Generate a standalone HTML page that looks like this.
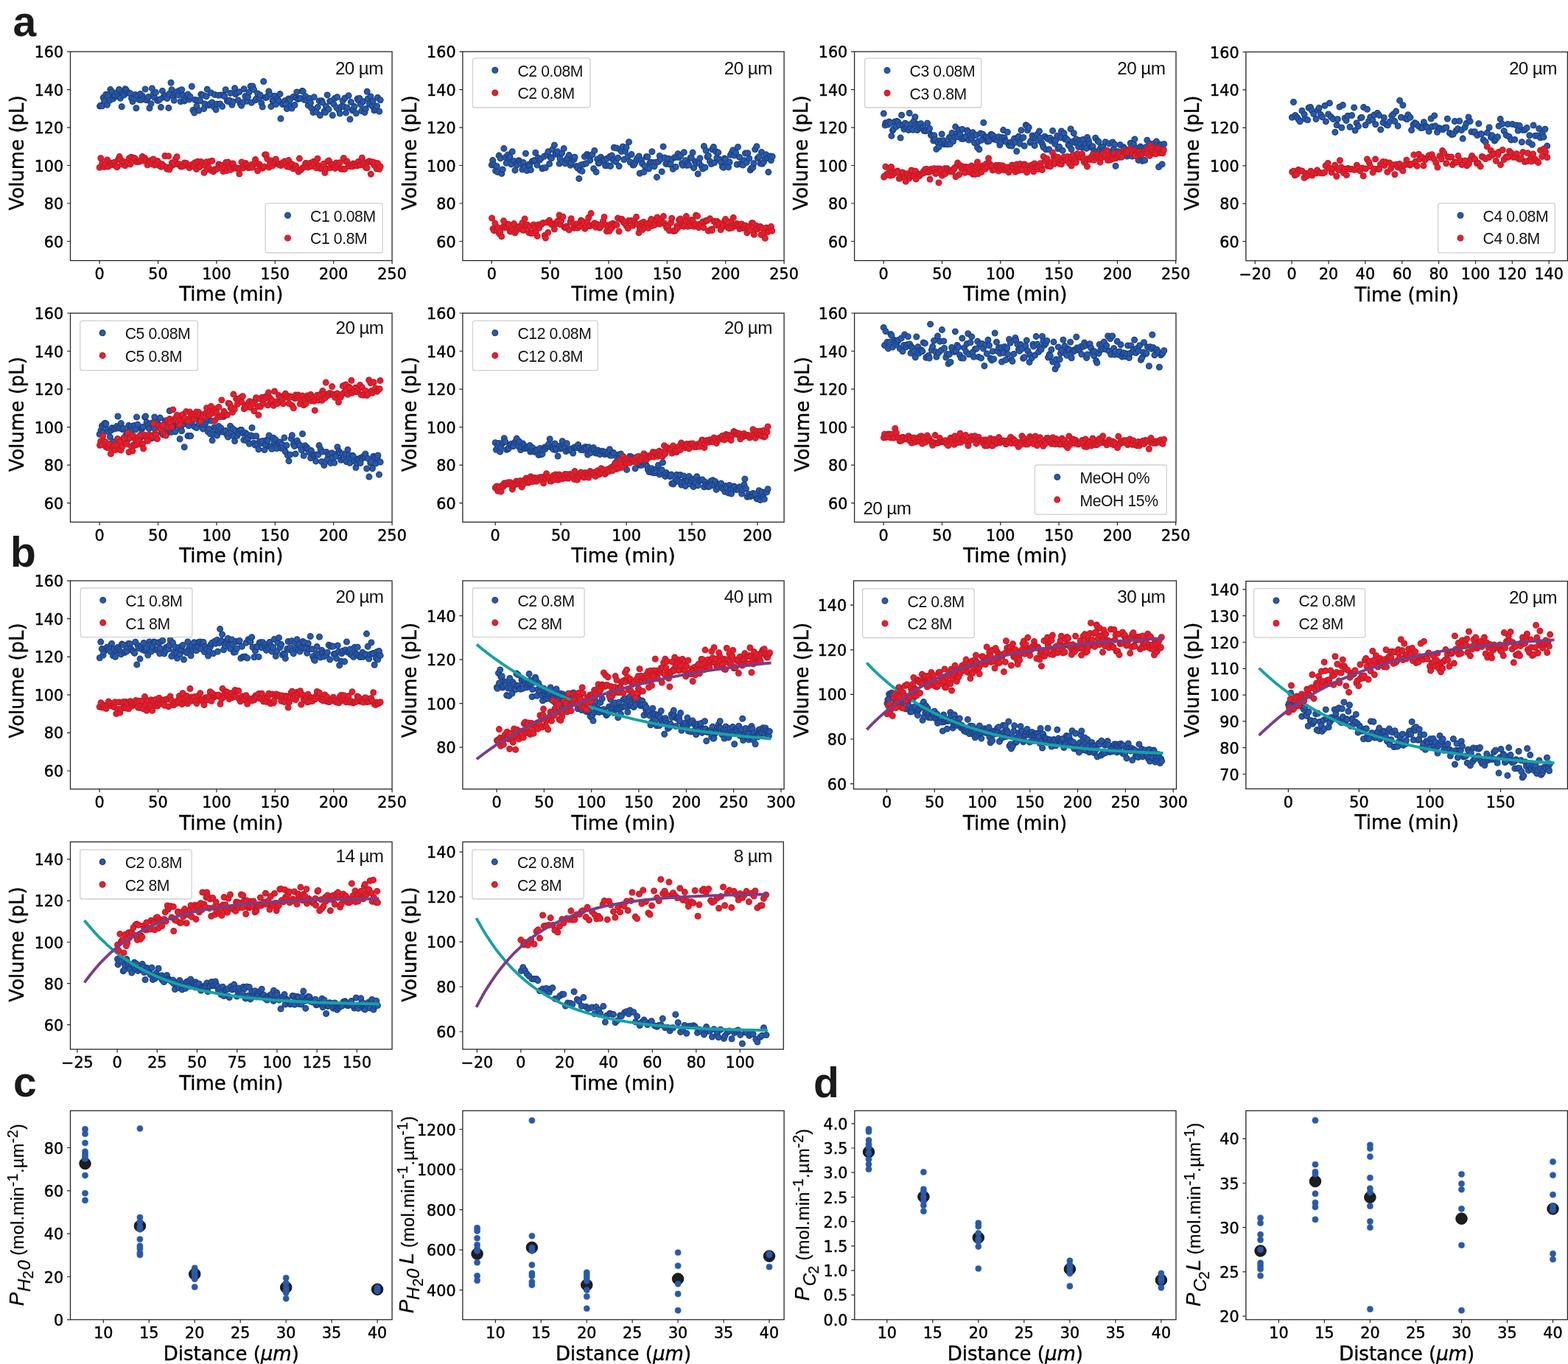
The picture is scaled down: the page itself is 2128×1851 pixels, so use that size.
<!DOCTYPE html><html><head><meta charset="utf-8"><style>html,body{margin:0;padding:0;background:#fff}svg{display:block}</style></head><body>
<svg xmlns="http://www.w3.org/2000/svg" width="2128" height="1851" viewBox="0 0 2128 1851">
<defs><marker id="m0" markerUnits="userSpaceOnUse" markerWidth="24" markerHeight="24" refX="12" refY="12" overflow="visible"><circle cx="12" cy="12" r="3.85" fill="#2859ab" stroke="#1d417f" stroke-width="1.3"/></marker><marker id="m1" markerUnits="userSpaceOnUse" markerWidth="24" markerHeight="24" refX="12" refY="12" overflow="visible"><circle cx="12" cy="12" r="3.85" fill="#ea1d2b" stroke="#bf1c29" stroke-width="1.3"/></marker><marker id="m2" markerUnits="userSpaceOnUse" markerWidth="24" markerHeight="24" refX="12" refY="12" overflow="visible"><circle cx="12" cy="12" r="7.75" fill="#1e1e1e" stroke="#111" stroke-width="1.0"/></marker><marker id="m3" markerUnits="userSpaceOnUse" markerWidth="24" markerHeight="24" refX="12" refY="12" overflow="visible"><circle cx="12" cy="12" r="4.05" fill="#2859ab" stroke="#2859ab" stroke-width="0.5"/></marker></defs>
<rect width="2128" height="1851" fill="#fff"/>
<clipPath id="ca1"><rect x="95.5" y="70.1" width="436.6" height="283.5"/></clipPath>
<g clip-path="url(#ca1)">
<path d="M135.5 144.1L136.6 143.3L138.7 143.8L140.2 132.4L141.6 136.9L143.8 128.3L145.4 142.3L146.6 129.5L148.9 136.2L149.8 121.6L152 124.5L153.6 134L155 130.5L156.3 129.2L158.8 125.8L160.1 131.1L161.6 121.4L163.3 133.2L165.2 144.7L166.6 127.1L168.4 129.1L169.9 120.8L171.3 122.1L173.1 126L175.4 126.3L177 126.9L178.5 133.4L180 137.7L182.1 133.5L183.7 128.5L184.8 146.7L186.8 130.6L188.8 135.2L190.3 127.5L191.6 135.6L193.3 130.3L195 133.5L197.1 121L198.5 135.8L199.9 134.1L201.6 131.6L202.9 146.8L205 140.8L206.4 120.1L207.9 127.9L209.6 132.2L211.4 125.4L213.5 136.2L214.7 136.4L216.7 135.1L218.4 145.6L220.4 123.4L221.6 131.9L223.6 129.8L224.5 131L226.8 133.6L228.8 146.4L229.5 127.4L232 112.2L233 121.8L235.1 131.3L236.2 136.2L237.9 127.2L239.6 124.7L242 128.9L243.5 122.9L245.1 137.8L246.7 121.8L248.1 129.2L250 137.1L251.6 135.3L253.7 130.8L254.9 128L256.8 135L258.1 131.2L260.3 117.3L261.9 149.6L263.7 153.1L264.7 135.6L266.9 144L268.2 136L269.9 150.1L271.6 136.8L272.8 128.1L275.3 129.1L276.7 147.6L277.9 141L280.1 130.8L281.2 121.2L283.1 142.8L285 141.3L286.5 126L287.8 139L290 144.9L291.4 128.4L293.1 148.7L294.5 141.3L296.2 129.2L298.7 141L300 129.1L301.6 144.4L303.5 128.9L304.7 130.7L306.2 121.7L308.3 137.1L309.8 137.7L311.4 136.2L312.8 126.4L314.8 142.2L316.1 138.1L318.6 119.7L319.7 127.9L321.7 125.9L323.2 136L324.8 124.7L326.3 141.1L327.7 143.3L330 138.8L331.1 120.7L332.9 130.5L335.3 137.3L336.4 131.6L338 125.3L340 117.1L341.3 139.3L343 117.1L344.6 121.6L346.6 135.9L347.7 134.2L349.7 127L351.9 133.1L353.3 129.1L354.8 139.9L356.2 145.1L357.7 110.5L360.2 132.4L361.8 132.3L363.6 129.9L364.8 123.9L366.5 128.4L367.9 144.5L370.1 136.7L371.5 136.2L372.9 130.2L374.6 141.6L376.3 133.9L378.2 136.4L380 127.6L381 161.1L383.5 141.6L385 139.2L386.7 136.7L387.8 141.2L389.4 147.5L391.6 134L393.5 135.5L394.6 143.7L396 147L397.9 131.5L400 142.5L401.7 132.6L402.8 124.9L404.4 134.6L406.4 133.5L407.9 133.4L410 123.4L411.3 124.1L412.8 135.4L414.6 130.8L416.1 136.4L418.2 142.9L420.1 133.6L421.5 139.4L422.8 146.9L425 152.6L426.2 131.8L427.6 149.7L429.3 152L431.2 145.4L433.3 136.9L434.4 156.6L436.6 136.8L437.6 139.1L440 151.1L441.5 152.6L442.6 144.6L444.2 128.9L446.1 148.4L447.7 137.4L449.8 136.9L451.3 156.5L453 141.3L454.4 133.4L456.8 146L457.6 131.7L459.8 149.2L461.3 154.1L463.4 144.5L465.1 136.7L466.3 144.7L467.9 133.2L469.5 153.1L471 146L473.1 129.8L475 161.8L476.3 138.4L478.3 149.8L479.4 148.3L481 144.6L483.4 153.7L485 134.1L486.3 136.1L488 133.4L489.5 141.8L490.8 150.5L492.8 137.7L495 152.6L496.3 147.7L498.2 124.2L499.3 134L501.5 141L503 130.9L505 143.7L506.1 137.2L507.9 149.7L509.3 147.5L511.5 144L512.5 132.4L514.8 151.2L516.2 135.8" fill="none" stroke="none" marker-start="url(#m0)" marker-mid="url(#m0)" marker-end="url(#m0)"/>
<path d="M135.1 227.2L136.8 214.7L138.7 221.5L139.9 225.9L141.9 226.6L143.4 222.7L145.5 217L146.8 226L148.9 221.1L149.8 221.2L151.4 223.5L153.3 221.3L155.3 220.3L156.8 224.9L158.8 226.7L160.5 216.3L162.1 212.6L163.1 216L165.1 222.7L166.9 218.9L168.8 221.7L169.7 224.8L171.8 221.5L173 219.6L175.3 214.8L176.8 222.9L178 213.3L179.7 218.9L181.7 214.2L183.4 215.2L185.1 219.5L187.1 219.4L188.8 219.2L189.8 219.1L191.3 217.2L193.2 212.5L195.3 218.2L196.5 214.4L198 217.5L200.1 223.9L201.9 219.3L203 218.8L204.6 217.7L206.3 222.6L208.1 216L209.9 224L211.7 222.6L213.7 218.5L214.8 220L216.8 225L218.5 226.3L219.8 222.8L221.7 224.8L223.8 211.6L225.4 226.9L226.6 229.3L228.6 211.8L229.8 230L231.9 225.9L233.2 221.1L235.2 223.6L236.2 221.8L238 216.4L240.1 212.7L241.3 222.7L243.1 222.7L245.1 225.8L246.4 226.1L248.1 225.6L250.2 221.1L251.2 224.5L252.8 221.5L255.2 225.2L257 227.8L258.4 224.4L260 223.6L262 225.5L263.3 224.6L264.5 220.7L266.5 229.6L268.2 219.2L270.2 226.7L271.7 225.5L272.8 219.5L275.1 221.9L276.9 234.2L277.8 224.4L280.3 219.8L281.1 229.9L283.4 227.4L284.8 219.2L286.6 231.3L287.9 218.3L289.6 232.9L291.3 230.1L293.5 229.5L295.2 228.9L296.8 222.9L298 223.6L299.7 224.6L301.5 224.6L302.9 232.5L304.7 228.1L306.6 220.4L308 231.6L309.5 220.1L311.1 227.4L313.1 230.4L314.9 222.3L316.3 222.1L317.7 228.3L319.8 227.6L321.9 228.8L323.2 228.2L324.8 236L326.4 228.6L328 219.9L329.9 228L331.2 224.1L333.5 221.6L334.8 224.1L336.6 227.4L337.7 227.6L339.7 227.3L341.1 223.5L342.8 227L344.9 221.9L346.6 216.4L348.3 222.1L349.6 231.8L351.8 222.8L353.4 225.2L354.9 227.2L356.3 228.3L358.3 226.2L359.6 209.9L361.2 209.9L362.7 215.6L365 227L366.1 222.8L367.9 217.9L369.7 225L371.4 220.9L373.4 218.7L374.4 216L376.5 222.3L378.1 222.2L379.5 223.7L381.2 224.6L383 221.3L384.4 222.8L386 219.1L387.7 221.9L389.6 226.1L391.7 217.6L392.9 226.6L395 222.3L396.8 223.3L397.8 228.7L400 225.8L401.4 224.9L403.1 229.3L405 233.1L406.4 215.1L408.2 230.6L409.4 229.1L411 227.6L413.4 226.2L414.7 221.5L415.9 221.7L418.3 227.1L419.9 222.8L421.1 221.2L423.2 225.5L425.1 219.6L426.4 222.6L428.4 218.7L429.3 227.8L431 215.2L432.9 224.7L434.3 228.6L436.8 228.6L437.7 228.3L439.7 222.3L440.9 234.4L442.6 229L444.9 219L446.5 218.1L447.9 227.8L450 222.8L451.5 223.4L453 226.9L454.9 228.4L456.4 221.1L457.6 226L459.4 223.1L461.3 220.7L462.8 229.2L464.7 229.4L466.4 214.5L467.8 229.5L469.7 219.1L471.1 219L473.1 224.6L474.1 225.8L476.7 223.7L478 226.1L479.5 222.1L481.2 222.9L482.6 224.7L485 224.9L486.2 219.4L487.9 223.5L489.2 224.1L491.3 214.3L492.7 222.9L494.5 220.6L496.4 227.2L498.1 227.8L499.3 220L501.2 218.8L503.3 236.3L504.7 219.9L506 220L507.6 224.1L509.2 221.1L511.1 229.1L512.6 221.7L514.8 229.5L516.2 225.9" fill="none" stroke="none" marker-start="url(#m1)" marker-mid="url(#m1)" marker-end="url(#m1)"/>
</g>
<rect x="95.5" y="70.1" width="436.6" height="283.5" fill="none" stroke="#262626" stroke-width="1.3"/>
<path d="M135.1 353.6v4.5M214.5 353.6v4.5M293.9 353.6v4.5M373.3 353.6v4.5M452.7 353.6v4.5M532.1 353.6v4.5M95.5 327.5h-4.5M95.5 276h-4.5M95.5 224.5h-4.5M95.5 173.1h-4.5M95.5 121.6h-4.5M95.5 70.1h-4.5" stroke="#262626" stroke-width="1.2"/>
<g font-family="DejaVu Sans" font-size="20.7" text-anchor="middle" fill="#000" stroke="#000" stroke-width="0.45"><text x="135.1" y="378.7">0</text><text x="214.5" y="378.7">50</text><text x="293.9" y="378.7">100</text><text x="373.3" y="378.7">150</text><text x="452.7" y="378.7">200</text><text x="532.1" y="378.7">250</text></g>
<g font-family="DejaVu Sans" font-size="20.7" text-anchor="end" fill="#000" stroke="#000" stroke-width="0.45"><text x="86.2" y="335.5">60</text><text x="86.2" y="284">80</text><text x="86.2" y="232.5">100</text><text x="86.2" y="181.1">120</text><text x="86.2" y="129.6">140</text><text x="86.2" y="78.1">160</text></g>
<text x="313.8" y="408.4" font-family="DejaVu Sans" font-size="26" text-anchor="middle" fill="#000" stroke="#000" stroke-width="0.4">Time (min)</text>
<text transform="translate(32.3 207.4) rotate(-90)" font-family="DejaVu Sans" font-size="26" text-anchor="middle" fill="#000" stroke="#000" stroke-width="0.4">Volume (pL)</text>
<rect x="360.1" y="275.9" width="159.1" height="67.1" rx="3" fill="#fff" fill-opacity="0.8" stroke="#d0d0d0" stroke-width="1.3"/>
<circle cx="390.5" cy="292.3" r="3.85" fill="#2859ab" stroke="#1d417f" stroke-width="1.3"/>
<circle cx="390.5" cy="323" r="3.85" fill="#ea1d2b" stroke="#bf1c29" stroke-width="1.3"/>
<g font-family="Liberation Sans" font-size="21.2" letter-spacing="-0.4" fill="#111"><text x="421.1" y="300.7">C1 0.08M</text><text x="421.1" y="331.4">C1 0.8M</text></g>
<text x="519.9" y="100.5" font-family="Liberation Sans" font-size="24.3" letter-spacing="-0.6" text-anchor="end" fill="#111">20 µm</text>
<clipPath id="ca2"><rect x="627.9" y="70.1" width="436.2" height="283.5"/></clipPath>
<g clip-path="url(#ca2)">
<path d="M667.3 223.9L668.7 217.6L670.3 223.5L672.6 231.8L674.3 225.8L675.2 233.4L677.1 211.1L679.1 214.8L680.8 235.6L682.2 229.9L683.9 201.6L685.8 213.6L687.2 221.3L689.4 209.9L690.4 215.2L691.9 212.8L693.7 222.9L695.2 205.7L697.6 218.4L699 231L700.3 222.6L701.8 223.8L704.2 217.7L705.4 219.8L706.9 221.9L708.8 230.1L710.2 220.5L711.8 227.3L713.4 208.3L715.1 231.6L717.3 223.5L718.7 225.1L720.3 230.6L722.2 218.9L724 218.3L725.3 217.8L726.8 207.3L729 224L730.3 214.3L732.5 217L733.8 215.4L736 228.7L736.9 228L738.5 212.3L740.2 227.7L742.6 209.8L744 205.7L745.6 222.4L747 213.5L748.5 214.7L750 202.8L752.4 196.9L753.8 209.2L755.9 208.2L756.7 205.7L759.1 222.1L760.1 215.2L762.6 207.7L763.4 219.3L765.2 201.6L767.1 221.8L768.8 216.8L770.1 214.6L772.3 210.6L774.1 224.3L775 221.1L776.8 214.8L779 216.4L780 213.3L782.2 225.5L784 228L785.8 242.4L787.1 230.7L788.6 223.8L790 232.2L791.8 223.1L793.4 212.5L795.4 221.8L796.6 209.4L799 211.2L800.8 217.5L801.7 211.1L803.8 209.8L805.7 228.8L806.8 204.4L809.1 233.4L810.6 216.1L812.3 221.5L813.4 221L815.5 213.3L817.3 218.1L819.1 216.7L820.4 217.4L821.6 224.8L823.8 215.2L825.2 224.7L827.4 212.6L828.5 225.4L830.4 211.1L832 217.1L833.3 200.2L835.5 219.4L836.9 201L838.7 214.2L840.2 225.6L841.5 202.8L843.3 205.6L845.3 198.9L846.9 216.5L848.5 205.2L850 199.9L852 212.7L853.5 192.7L855.3 220L857 209.5L859.1 224L860.5 223.6L862 220.7L863.8 217L865 214.6L867.2 211.9L868.3 235.2L870.4 217.4L871.6 222.1L873.9 233.4L875.1 225.2L877.3 212.8L878.8 212.8L880.6 229.1L882.1 220.8L883.4 220.3L884.9 205.8L887.3 220.7L888.1 225.8L890.6 220.2L891.5 240.4L893.6 219.3L895.2 211.5L897 215.9L898.2 232.9L900.1 198.9L901.9 213.9L903.8 222.4L905.3 221.7L907 215.2L908.3 222.9L910.1 222.6L911.9 215.9L913.3 229.4L915.4 213.8L917.2 226.5L918 213.1L920.1 208.7L921.5 213.6L923.6 211.3L925.5 221.7L926.6 224.2L928.3 206.7L930.1 217.8L931.8 224.4L933.4 221.7L935.1 224.1L937.1 214L938.3 214.2L940.1 207.1L941.5 227.9L943.3 219.3L945.1 221.8L947.2 236L948.7 220.4L949.9 214.8L952.2 225.5L953.7 229L955.4 198.5L957 227.3L958.1 204.2L959.9 212.8L961.4 211.2L963.5 218.9L965.3 222.6L966.5 202.8L968.4 199.4L969.6 220.8L971.7 205.7L972.9 214.2L974.7 206.9L976.8 216.4L978.8 220.3L980.3 226.1L981.9 227.3L983.3 215L984.6 216L987 223L988.6 226.9L990.2 220L991.4 210.3L993.3 206.9L994.8 203.8L996.5 211L998.5 207.1L1000.2 223.2L1001.5 199.5L1003.5 213.3L1004.7 222.6L1007 223.2L1008.3 224.1L1009.6 217.7L1011.4 208.1L1013.3 220.4L1014.8 207.7L1016.8 215L1018.3 230.7L1019.9 228.3L1021.8 227.2L1023 221.7L1024.7 202.7L1026.9 198.7L1028.2 214.6L1030.3 212.8L1032 221.7L1033.5 206.4L1034.5 222.3L1036.4 220.1L1038.5 215.1L1039.6 209.8L1042 214.4L1042.8 233.6L1045.3 211.9L1046.4 217.5L1048.2 212.4" fill="none" stroke="none" marker-start="url(#m0)" marker-mid="url(#m0)" marker-end="url(#m0)"/>
<path d="M667.6 296L669.1 310.5L670.4 312.9L671.9 303.1L673.8 312.1L675.9 309.1L677.5 317.1L678.9 314.4L680.7 320.7L682.6 308.1L683.5 299.7L685.6 308.7L687.5 308.6L689.2 304.5L690.3 304.5L692.2 314.1L693.8 313.9L695.4 311.6L697.5 303.6L699 316L700.6 312.7L702 310.1L704.1 307.4L705.1 308L707.7 311.1L708.9 302.5L710.3 312.6L712.2 296.9L714.1 306.9L715.8 305.1L717.6 315.5L719.1 307.4L720.4 316.5L722 316.6L724 305L725.5 309.3L727.2 315.2L729.2 320.4L730.1 305.1L731.7 309.2L733.6 304.8L735.4 304L737 302.4L739.2 319.5L740.4 323.1L742 302.1L743.7 315.6L745.6 298.9L747.1 302.5L748.4 304.5L750.5 303.9L752.4 311.1L754 302.9L755.9 303.3L757 299.7L759.1 291.9L760.6 304.6L761.7 299.4L764 294.2L765.9 308.2L766.9 308.8L768.7 307.3L770.2 309.6L772.3 312.1L774.1 300.9L775.2 296.8L777 302.9L779 309.2L780.8 309.1L782.5 304L784 309.2L785.6 306.2L786.9 307.6L788.5 299.1L790.3 300.3L792.3 303.9L793.8 310.3L795.3 307.4L797 301L798.8 295.3L800.5 306.8L802.1 289.6L804.2 305.6L805.8 304.8L807 302.7L808.5 308.2L810.3 304.4L811.6 305.5L813.7 309.2L815 307.8L817.3 303.1L818.6 300L820.1 294.4L821.9 305.3L823.4 313.7L825 307.7L827 313.6L828.6 304.5L830.1 309.6L831.8 303.3L833.5 305.2L835.7 304.7L836.8 305.4L838.5 296.1L840.1 314L842.2 297.8L843.8 297.2L845.5 300L846.8 302.2L848.3 301.2L850 306.4L852.3 309.9L853.2 299.4L855.7 299.5L856.9 299.8L858.7 306.2L860.7 299.7L862.2 302.4L863.6 294.4L864.9 304.3L867 315.9L868.5 310.6L870.4 303L871.6 311.7L873.5 301.3L874.9 308.7L877.3 304L878.5 303.9L879.8 309.4L881.5 302.3L883.7 297.6L885 306.4L887.2 304L888.5 305.3L890.3 297.6L892 295L893.8 303.8L895.2 304.1L896.4 298.4L898.8 302.5L900.5 293.6L901.5 302.8L903.6 305.9L904.9 309.3L906.8 306.3L908.4 312.8L910.5 302.2L911.7 296.2L913.9 313.6L915.6 313.3L917 312.3L918.6 306.7L919.8 309.1L921.5 298.6L923.3 297L925.1 306.2L926.7 304.9L928.2 307.3L930.5 300.3L931.4 293.6L933.3 307.2L935.4 303.6L937.2 306.4L938.6 298.5L940 299.2L942 307.2L943.9 304.3L944.6 292.2L946.5 293.2L948.3 308.7L949.7 304.2L951.6 305.3L953.7 301L954.7 308.9L956.4 301.1L958 299.5L959.7 299.3L961.3 313.3L963.5 296.7L965.4 311L966.4 312.6L968.8 300.2L970.5 300.7L971.9 305.7L973.4 300.6L975 302L976.8 304.3L978.1 311.8L980 308.2L982.1 306.1L983.6 299.4L984.6 297.5L986.5 307.1L987.9 308.8L989.7 310L991.8 300.8L993.6 309.1L995.3 295.4L996.3 305.9L998.6 306.4L999.9 303.4L1002 306.1L1003.7 310.6L1005.1 305L1006.4 303.9L1007.9 309.5L1009.8 308.2L1011.8 306.2L1013.8 315.7L1014.9 309.8L1016.2 307.5L1018 312.4L1020.4 302.7L1021.8 303L1023.4 318.2L1025.2 310L1026.6 306.4L1027.9 311L1030.3 308.5L1031.9 307.6L1032.9 318.6L1034.6 309.6L1036.6 316.1L1038.3 323.2L1040.4 308.9L1041.7 315L1043.5 312.4L1044.5 309.2L1046.5 307.6L1047.8 313.3" fill="none" stroke="none" marker-start="url(#m1)" marker-mid="url(#m1)" marker-end="url(#m1)"/>
</g>
<rect x="627.9" y="70.1" width="436.2" height="283.5" fill="none" stroke="#262626" stroke-width="1.3"/>
<path d="M667.3 353.6v4.5M746.7 353.6v4.5M826 353.6v4.5M905.4 353.6v4.5M984.7 353.6v4.5M1064.1 353.6v4.5M627.9 327.5h-4.5M627.9 276h-4.5M627.9 224.5h-4.5M627.9 173.1h-4.5M627.9 121.6h-4.5M627.9 70.1h-4.5" stroke="#262626" stroke-width="1.2"/>
<g font-family="DejaVu Sans" font-size="20.7" text-anchor="middle" fill="#000" stroke="#000" stroke-width="0.45"><text x="667.3" y="378.7">0</text><text x="746.7" y="378.7">50</text><text x="826" y="378.7">100</text><text x="905.4" y="378.7">150</text><text x="984.7" y="378.7">200</text><text x="1064.1" y="378.7">250</text></g>
<g font-family="DejaVu Sans" font-size="20.7" text-anchor="end" fill="#000" stroke="#000" stroke-width="0.45"><text x="618.6" y="335.5">60</text><text x="618.6" y="284">80</text><text x="618.6" y="232.5">100</text><text x="618.6" y="181.1">120</text><text x="618.6" y="129.6">140</text><text x="618.6" y="78.1">160</text></g>
<text x="846" y="408.4" font-family="DejaVu Sans" font-size="26" text-anchor="middle" fill="#000" stroke="#000" stroke-width="0.4">Time (min)</text>
<text transform="translate(564.7 207.4) rotate(-90)" font-family="DejaVu Sans" font-size="26" text-anchor="middle" fill="#000" stroke="#000" stroke-width="0.4">Volume (pL)</text>
<rect x="641.4" y="78.8" width="159.6" height="67.2" rx="3" fill="#fff" fill-opacity="0.8" stroke="#d0d0d0" stroke-width="1.3"/>
<circle cx="671.8" cy="95.2" r="3.85" fill="#2859ab" stroke="#1d417f" stroke-width="1.3"/>
<circle cx="671.8" cy="125.9" r="3.85" fill="#ea1d2b" stroke="#bf1c29" stroke-width="1.3"/>
<g font-family="Liberation Sans" font-size="21.2" letter-spacing="-0.4" fill="#111"><text x="702.4" y="103.6">C2 0.08M</text><text x="702.4" y="134.3">C2 0.8M</text></g>
<text x="1047.8" y="100.6" font-family="Liberation Sans" font-size="24.3" letter-spacing="-0.6" text-anchor="end" fill="#111">20 µm</text>
<clipPath id="ca3"><rect x="1159.6" y="70.1" width="436.4" height="283.5"/></clipPath>
<g clip-path="url(#ca3)">
<path d="M1199.3 154.1L1201.2 170L1201.9 166.7L1203.8 167.8L1205.2 169.1L1206.6 165.2L1208.7 166.6L1209.9 184.4L1211.5 176.8L1212.8 174.7L1214.5 165.3L1216.2 171.7L1217.3 164.6L1218.8 165.5L1220.4 169.8L1222.1 187.1L1223.6 156.2L1225.2 169.6L1226.8 175.3L1228.5 167.2L1230 173.1L1231.4 169.2L1233.1 176.6L1234.2 153.5L1235.7 173.3L1237.1 167.8L1239.2 176.3L1240.4 164.3L1241.9 158.7L1243.7 168.5L1244.9 176.6L1246.8 169.3L1248.2 173.9L1249.7 167.7L1251.3 173.6L1252.8 173.5L1254.1 177.5L1255.9 177.7L1257 177.1L1258.6 167.2L1260.4 177.3L1261.6 174.4L1263.5 183.3L1265.3 184.2L1266.8 190.9L1267.8 183.8L1269.2 189.4L1270.8 202.4L1272.8 193.5L1274.2 199.2L1275.7 190.9L1277.4 193.6L1278.2 181.9L1280.6 190.7L1281.7 195.7L1283.2 194.4L1285 195.7L1286.1 195.8L1288.3 186.6L1289.5 195.6L1291.2 187.7L1292.1 180.5L1293.6 191.7L1295.9 185.9L1296.7 172.1L1298.8 180.7L1299.6 185.5L1301.4 176.2L1302.9 182.8L1305 188.3L1306 175.5L1307.5 188.4L1308.8 186.6L1310.6 185.3L1312.7 177L1313.9 179.7L1314.9 190L1316.5 184.5L1318.2 187.8L1320.2 179.7L1321.2 184.4L1322.6 193.7L1325 183.2L1326.5 200L1327.7 192L1328.9 202.7L1330.7 181.1L1331.9 190.2L1333.9 182.2L1334.8 166.4L1337 185.8L1338.7 186L1340.1 192L1341.1 187L1342.5 191.3L1344.9 182.5L1345.9 182.8L1347.7 184L1349.4 189L1350.3 188.3L1352.5 189.6L1353.4 190.3L1355.2 185.7L1356.9 196.7L1358.2 193L1359.9 186.5L1361.6 176.6L1363.2 186.9L1364.2 190.9L1365.4 192.3L1367.3 179.3L1369.2 196.5L1370 197.5L1372.2 193L1373.3 198.1L1375.2 193.9L1376.5 188.1L1378.3 192.9L1379.7 205.3L1380.8 187.1L1382.3 185.2L1384.2 195L1386 176.8L1387.4 187.4L1388.9 186.5L1390.2 198.1L1392.3 169.7L1393.8 171L1394.6 176.8L1396.3 172.9L1398 193.4L1399 191.3L1401.1 183.9L1402.4 186.7L1404.1 197.5L1405.3 187.8L1407.6 182.5L1408.3 190.3L1410.5 178L1411.5 186.9L1413.6 193.4L1415.2 196.7L1416.1 199.9L1417.8 185.3L1419.6 202.9L1420.8 187.1L1422.1 188.5L1423.6 202.7L1425.1 187.3L1426.5 191.1L1428.6 177.4L1430.5 190.1L1431.7 195.2L1432.7 190.5L1434.9 184.3L1435.9 201.8L1437.6 199.2L1439.4 186.8L1440.5 177.9L1442.2 204.3L1444 180.8L1445.2 188.9L1446.4 187.4L1448.7 189.7L1450 196.6L1451.5 198L1453.1 175L1454 202.5L1455.8 192.2L1457.3 180.8L1458.7 193.4L1460.3 188.8L1462.3 193.8L1463.6 199.4L1465.3 190.5L1466.5 195.9L1468.7 200.3L1469.5 189.5L1471.5 199.1L1473.1 195.8L1474.5 201.4L1475.6 186.5L1477.4 191L1478.5 195.8L1480.9 199.7L1481.8 200L1483.1 198.8L1485 205.1L1486.7 187.3L1488.1 205.9L1489.8 191.2L1491.1 192.5L1492.9 202.3L1494.5 199.3L1496.2 208.6L1496.9 199.4L1499.1 203.7L1500.3 192.8L1501.5 204.6L1503.8 205.3L1505.3 195L1506.1 214.8L1507.7 206.7L1510 193L1511.4 202.1L1512.8 196.1L1514.1 225.3L1515.5 207.1L1517.3 205.8L1518.9 213.2L1520.3 196.5L1522.2 213.1L1523.3 206.3L1524.8 199.7L1526 201.4L1528.3 206.8L1529.4 212L1531 203.9L1532.9 210.7L1534.3 194.2L1535.1 206.5L1536.6 212L1538.6 195.8L1539.9 188.9L1541.6 201.3L1542.7 208.2L1545 217.4L1546.5 211.2L1547.6 198.9L1549.4 200.7L1550.3 218.4L1552.2 202.4L1553.6 217.5L1555.1 199.8L1556.8 190.3L1558 204.5L1560.2 194.9L1561.3 207.1L1563 203.5L1564.3 196.1L1566 195.1L1567.9 204.9L1569.5 191.9L1570.9 202.6L1572.6 226.5L1573.4 196.6L1575.7 196.4L1577.1 222.9L1578 201.6L1579.8 195.6" fill="none" stroke="none" marker-start="url(#m0)" marker-mid="url(#m0)" marker-end="url(#m0)"/>
<path d="M1199.7 240.2L1200.3 238.9L1201.9 226.3L1203.8 236L1205.8 237.4L1206.5 228.5L1208.2 238.3L1209.6 226.6L1211.3 237.6L1212.5 232.8L1214.6 234.5L1215.6 234.4L1218 231.9L1218.7 233.4L1220.4 242.3L1221.7 241.5L1223.9 238.1L1225.1 233.9L1226.7 238.6L1228.4 240.1L1229.3 246.2L1231.1 235.8L1232.8 237.2L1234 242.1L1235.5 239.3L1236.9 231L1239.1 238.7L1240.4 238.7L1242.4 232.2L1243.2 243.1L1245 236.9L1247 236.2L1247.8 238.8L1249.5 236.8L1251.6 235.4L1253.1 232.9L1254.6 234.2L1255.5 229.9L1257.7 229.4L1258.6 232.8L1260.4 233.8L1262.1 243.2L1263.7 229.4L1264.6 232.1L1266.8 232.1L1267.6 228.8L1269.7 235.5L1271.3 234.8L1272.1 228.9L1274 247.9L1275.6 229.1L1277.3 231.5L1278.5 238.2L1280.6 236.3L1282.2 228.7L1282.9 235.7L1285.3 228.7L1286.2 230.1L1287.9 232.1L1289.3 232.8L1291.1 231.1L1292.2 233L1294.2 230.3L1295.4 227.8L1297.1 239.7L1299 224.6L1299.7 221.1L1301.6 237.1L1303.6 224.7L1305 228.8L1306.7 226.2L1307.9 229.7L1309.5 234.3L1310.7 226.5L1312.1 227.7L1313.9 227L1315.4 233.4L1316.7 230.1L1318.4 225.1L1320.2 236.3L1321.9 228L1323 236.5L1324.7 226.1L1326.5 219.9L1327.6 235.8L1328.9 229.7L1330.6 226.4L1331.9 233.5L1333.5 225L1335.3 226.9L1337.2 229.3L1338.1 222.5L1340.2 226.2L1341.6 214.8L1342.4 221.3L1344.5 224.7L1346.1 224.7L1347.1 230.9L1349.4 229.4L1350.1 230L1351.9 224.4L1354 224.4L1355.3 232L1357 224.5L1358.1 227.6L1360 230.2L1361.1 225.1L1362.7 228.4L1364.1 230.7L1366 230.6L1367.1 226.9L1369.1 233.8L1370.8 230.6L1372 226.1L1373.5 223.9L1374.6 226.9L1376.4 228.5L1378.1 233.3L1380 223L1381 230.8L1382.5 231.4L1384.3 222.5L1385.7 229.6L1387.7 230.5L1389.1 224.2L1390.3 222.9L1391.4 224.2L1393.6 233.9L1395 225.2L1396.7 228.1L1398.1 229.2L1399.2 224.6L1401.1 223.7L1402.7 232.7L1403.9 222L1405.5 226.8L1407.4 226.4L1408.8 229.4L1409.9 225L1411.9 221.8L1413.3 226.6L1414.4 230.6L1416.2 212.5L1418.2 217.5L1419.2 219.1L1421.1 215.4L1421.9 225.2L1423.6 224.2L1425.5 225.7L1426.6 220.4L1428.4 207L1430.3 212.9L1431.3 222.3L1433 212.7L1434.5 215.3L1435.8 213.4L1437.7 222.1L1439.4 219L1440.5 222.9L1442.4 218.4L1444 213.1L1445.2 217.5L1446.6 216.4L1448.6 212.4L1449.6 218.2L1451.3 221.7L1453.3 213.3L1454.1 225L1456 210.5L1457.6 219.2L1458.7 217.3L1460.3 220.6L1461.8 208.7L1463.3 209.3L1465.5 213.7L1466.3 213.7L1468.6 209.1L1470 214.1L1471.5 220.3L1473.3 218.7L1474.8 215.8L1475.5 225.9L1477.3 215.7L1479.4 216.5L1480.8 213.2L1482.1 214.6L1483.4 209.2L1484.6 217.2L1487.1 212.3L1488.5 209.5L1489.9 213.1L1491.4 211L1493 220.1L1494 212.1L1495.5 214L1496.9 208.7L1499.2 212.6L1500.3 210.2L1502.3 204.2L1503.5 217.5L1504.6 211.4L1506.8 217.1L1507.8 213.7L1509.9 213.1L1510.7 215.3L1512.3 208.3L1514.3 214.9L1515.8 212.4L1516.9 210.1L1518.4 210.4L1520.5 208.1L1522.2 212.9L1523.7 204.9L1524.7 207.1L1526.2 205L1528.3 205L1529 206.8L1530.7 206.3L1532 204.2L1533.7 202L1535.1 203.9L1537 208.4L1538.8 204.5L1540.5 211.5L1541.8 205.2L1542.8 206.7L1545 206.3L1546.3 206.4L1548 210.2L1549.6 209.4L1550.7 208.3L1552.7 206.4L1554 205.1L1555.7 207.5L1556.9 208.8L1558.4 201.1L1560.4 211.2L1561.1 197.5L1562.6 200.7L1564.8 205.4L1565.9 208.3L1567.4 206.6L1568.8 208.7L1570.4 200.6L1572.5 202.1L1574 207.6L1575.1 206L1576.5 206L1578.1 207.7L1579.4 203.4" fill="none" stroke="none" marker-start="url(#m1)" marker-mid="url(#m1)" marker-end="url(#m1)"/>
</g>
<rect x="1159.6" y="70.1" width="436.4" height="283.5" fill="none" stroke="#262626" stroke-width="1.3"/>
<path d="M1199.2 353.6v4.5M1278.5 353.6v4.5M1357.8 353.6v4.5M1437.1 353.6v4.5M1516.4 353.6v4.5M1595.7 353.6v4.5M1159.6 327.5h-4.5M1159.6 276h-4.5M1159.6 224.5h-4.5M1159.6 173.1h-4.5M1159.6 121.6h-4.5M1159.6 70.1h-4.5" stroke="#262626" stroke-width="1.2"/>
<g font-family="DejaVu Sans" font-size="20.7" text-anchor="middle" fill="#000" stroke="#000" stroke-width="0.45"><text x="1199.2" y="378.7">0</text><text x="1278.5" y="378.7">50</text><text x="1357.8" y="378.7">100</text><text x="1437.1" y="378.7">150</text><text x="1516.4" y="378.7">200</text><text x="1595.7" y="378.7">250</text></g>
<g font-family="DejaVu Sans" font-size="20.7" text-anchor="end" fill="#000" stroke="#000" stroke-width="0.45"><text x="1150.3" y="335.5">60</text><text x="1150.3" y="284">80</text><text x="1150.3" y="232.5">100</text><text x="1150.3" y="181.1">120</text><text x="1150.3" y="129.6">140</text><text x="1150.3" y="78.1">160</text></g>
<text x="1377.8" y="408.4" font-family="DejaVu Sans" font-size="26" text-anchor="middle" fill="#000" stroke="#000" stroke-width="0.4">Time (min)</text>
<text transform="translate(1096.4 207.4) rotate(-90)" font-family="DejaVu Sans" font-size="26" text-anchor="middle" fill="#000" stroke="#000" stroke-width="0.4">Volume (pL)</text>
<rect x="1173.6" y="79.2" width="158.2" height="66.8" rx="3" fill="#fff" fill-opacity="0.8" stroke="#d0d0d0" stroke-width="1.3"/>
<circle cx="1204" cy="95.6" r="3.85" fill="#2859ab" stroke="#1d417f" stroke-width="1.3"/>
<circle cx="1204" cy="126.3" r="3.85" fill="#ea1d2b" stroke="#bf1c29" stroke-width="1.3"/>
<g font-family="Liberation Sans" font-size="21.2" letter-spacing="-0.4" fill="#111"><text x="1234.6" y="104">C3 0.08M</text><text x="1234.6" y="134.7">C3 0.8M</text></g>
<text x="1581.3" y="100.6" font-family="Liberation Sans" font-size="24.3" letter-spacing="-0.6" text-anchor="end" fill="#111">20 µm</text>
<clipPath id="ca4"><rect x="1690.9" y="70.5" width="436.5" height="283.3"/></clipPath>
<g clip-path="url(#ca4)">
<path d="M1753.4 159.3L1755.5 138.5L1757.9 156.5L1760.5 159.6L1762.5 162.3L1764.2 164.9L1767 150.2L1770.2 155.4L1771.3 161.3L1774.6 162.8L1776.1 146.2L1778.4 145.4L1780.4 150L1782.8 154.6L1786.1 161.6L1788.8 149.2L1790.1 146.5L1792.5 155.6L1794.5 158.8L1798 143.4L1799.4 164.9L1802.7 155L1804.4 139.9L1806.3 158.5L1809.3 161.6L1811.9 179.4L1814.2 169.7L1815.4 161.8L1818 145L1820.8 173.2L1822.4 142.6L1825.2 160.2L1827.1 163.5L1829.3 157.3L1832 172.3L1834.7 156.6L1837.7 145.9L1839.1 177L1841.1 166.9L1843.4 171.4L1846.5 160.1L1848.1 159.4L1850.6 145.6L1853.1 169.7L1855.4 148.3L1857.6 164.2L1859.8 158.9L1862.8 162.9L1864.8 156.1L1866.8 168.8L1869.4 153.5L1871.6 156.4L1873.7 175.9L1877 166.4L1878.3 159.7L1881.7 169.2L1883.4 169.9L1885.8 165.4L1888.8 157.3L1891 154.9L1892.9 164.6L1894.6 151.1L1897.2 171L1899.6 136.4L1901.5 159.2L1903.9 142.8L1907.3 160.5L1909.4 161.7L1910.9 155.8L1914 159.3L1915.6 176.6L1917.9 169.2L1920.2 166.7L1922.3 168.2L1925.3 171.4L1928.3 173.5L1930.5 173.5L1932.4 165.7L1935.2 171.4L1936.7 172.7L1939.2 178.2L1942.1 161L1943.9 171.8L1946.7 156.9L1948.1 171.1L1950.5 179.2L1953.2 173.8L1954.9 174.7L1958.1 175.8L1960.7 173.5L1962.9 173L1964.4 161.2L1967.4 180.5L1970.1 182.6L1972.3 182L1974.3 164.6L1975.9 177.6L1978.5 174.7L1980.6 164.2L1983.6 176.6L1985.2 188.1L1988.2 172.8L1989.9 167.5L1993 159L1995.1 164.6L1996.9 178.8L2000.4 179.6L2001.4 178.8L2004.8 183.5L2006.8 167.8L2009.5 181.8L2010.6 182.1L2013.2 189.9L2016.2 192.7L2018.4 180.1L2021.1 173L2023.5 186.4L2024.8 183.8L2028.3 191.1L2029.7 189.1L2032.5 185.7L2034.1 171.1L2036.2 161.6L2038.7 168.3L2041.2 177.8L2044.1 183.4L2046.3 168.5L2048.3 185.6L2050.9 189.9L2052.6 168.6L2055.8 189.4L2057.8 170L2060.2 177.2L2062.2 170.5L2065.4 192.8L2066.6 176.4L2069.4 176.4L2072.2 173.5L2074.8 192.9L2075.8 183.8L2079.4 196.2L2081.1 170.1L2083.5 184.3L2086.4 184.1L2088.7 174.6L2090.5 186.7L2093.2 180.9L2094.9 186L2096.9 175.2L2099.7 198.1" fill="none" stroke="none" marker-start="url(#m0)" marker-mid="url(#m0)" marker-end="url(#m0)"/>
<path d="M1753.7 233.3L1755.7 232.2L1757.3 237.8L1760 236.2L1762.1 230.4L1764.2 231.8L1767.1 232L1770.1 241.2L1771.7 235.3L1774.3 238.5L1776.5 235.4L1778.9 232.3L1781 238.1L1782.9 234.7L1786.5 234.9L1787.6 231L1790.2 233.9L1792.3 234.7L1795.4 235L1797.9 233.8L1799.1 224.9L1802.2 221.4L1803.8 228.4L1807.3 234.1L1808.8 228.4L1811.7 224.1L1813.9 239.3L1816.6 230.8L1818.4 217.7L1820.3 226.8L1823.4 234.5L1825.1 229.2L1827.4 237.6L1829.4 228.6L1831.9 229.4L1834.4 229.5L1837.6 230.4L1839.9 230L1841.4 224.2L1843.3 228.3L1845.9 231.8L1848.7 227.9L1850.2 238.7L1853.3 229L1855.4 216.1L1858 220.2L1859.6 225.6L1863.2 234.1L1865.5 229.3L1866.6 215.9L1870.1 229.4L1871.7 229.6L1873.5 223L1876.9 219.6L1879 224.6L1880.8 220.1L1882.8 233.4L1885.6 220.9L1887.5 228.9L1890.7 223.7L1892.9 236.7L1895.2 223.2L1897.1 226.9L1899.4 222.4L1901.8 228.9L1904 231.8L1906.1 224.1L1908.9 217.2L1910.6 223.1L1913.6 224.1L1915.8 222.6L1918.8 210.1L1921.3 218.9L1923.2 225.2L1925.3 209.3L1927 215.9L1929.9 213.4L1931.9 224.8L1934 217L1937.1 214L1939 211.1L1942.2 213.5L1943.2 209.8L1946.3 216.1L1948.8 220.7L1951 227L1953.9 211.7L1956.3 215.8L1957.6 204.6L1959.7 207.7L1962.7 221.7L1964.9 212.8L1967.2 213.6L1969.8 213.1L1971.4 223.5L1974 220.1L1976.5 220.4L1978.9 211.6L1981.7 217.4L1983.8 223.4L1985.4 222.9L1988.1 217.9L1990.7 224.7L1993.4 222.4L1995.5 216.3L1997.6 211.5L2000.2 215L2001.6 216L2004.4 221.7L2006 221.1L2009.2 225.8L2011.3 212.5L2013.2 213.5L2016.1 215.5L2018.2 198.7L2020.6 213.6L2023.2 204.3L2025 210.7L2027.7 208.6L2030.3 218.3L2032.9 209.8L2034.1 206.2L2036.5 223.6L2039.3 203.5L2041.1 216.5L2044.1 212.8L2046.8 213.4L2048.5 205.2L2050.9 207.4L2053.7 213.3L2056.1 213.2L2058.4 208.7L2060.1 214.6L2062.1 216L2064.5 214.7L2066.8 206.6L2069.4 219.5L2072.3 218.7L2073.4 207.8L2077.2 215L2078.3 219.1L2080.6 208.9L2083.3 216L2085.7 218.7L2087.7 220.5L2090.5 204L2092.7 212.5L2095.3 201.9L2097.6 206.1L2099.7 213.5" fill="none" stroke="none" marker-start="url(#m1)" marker-mid="url(#m1)" marker-end="url(#m1)"/>
</g>
<rect x="1690.9" y="70.5" width="436.5" height="283.3" fill="none" stroke="#262626" stroke-width="1.3"/>
<path d="M1703.3 353.8v4.5M1753.2 353.8v4.5M1803.1 353.8v4.5M1852.9 353.8v4.5M1902.8 353.8v4.5M1952.6 353.8v4.5M2002.5 353.8v4.5M2052.3 353.8v4.5M2102.2 353.8v4.5M1690.9 327.7h-4.5M1690.9 276.3h-4.5M1690.9 224.8h-4.5M1690.9 173.4h-4.5M1690.9 121.9h-4.5M1690.9 70.5h-4.5" stroke="#262626" stroke-width="1.2"/>
<g font-family="DejaVu Sans" font-size="20.7" text-anchor="middle" fill="#000" stroke="#000" stroke-width="0.45"><text x="1703.3" y="378.9">−20</text><text x="1753.2" y="378.9">0</text><text x="1803.1" y="378.9">20</text><text x="1852.9" y="378.9">40</text><text x="1902.8" y="378.9">60</text><text x="1952.6" y="378.9">80</text><text x="2002.5" y="378.9">100</text><text x="2052.3" y="378.9">120</text><text x="2102.2" y="378.9">140</text></g>
<g font-family="DejaVu Sans" font-size="20.7" text-anchor="end" fill="#000" stroke="#000" stroke-width="0.45"><text x="1681.6" y="335.7">60</text><text x="1681.6" y="284.3">80</text><text x="1681.6" y="232.8">100</text><text x="1681.6" y="181.4">120</text><text x="1681.6" y="129.9">140</text><text x="1681.6" y="78.5">160</text></g>
<text x="1909.2" y="408.6" font-family="DejaVu Sans" font-size="26" text-anchor="middle" fill="#000" stroke="#000" stroke-width="0.4">Time (min)</text>
<text transform="translate(1626.5 207.7) rotate(-90)" font-family="DejaVu Sans" font-size="26" text-anchor="middle" fill="#000" stroke="#000" stroke-width="0.4">Volume (pL)</text>
<rect x="1951.6" y="275.9" width="158.6" height="67.3" rx="3" fill="#fff" fill-opacity="0.8" stroke="#d0d0d0" stroke-width="1.3"/>
<circle cx="1982" cy="292.3" r="3.85" fill="#2859ab" stroke="#1d417f" stroke-width="1.3"/>
<circle cx="1982" cy="323" r="3.85" fill="#ea1d2b" stroke="#bf1c29" stroke-width="1.3"/>
<g font-family="Liberation Sans" font-size="21.2" letter-spacing="-0.4" fill="#111"><text x="2012.6" y="300.7">C4 0.08M</text><text x="2012.6" y="331.4">C4 0.8M</text></g>
<text x="2112.9" y="100.6" font-family="Liberation Sans" font-size="24.3" letter-spacing="-0.6" text-anchor="end" fill="#111">20 µm</text>
<clipPath id="ca5"><rect x="95.5" y="425" width="436.6" height="283.5"/></clipPath>
<g clip-path="url(#ca5)">
<path d="M135.1 589.3L137 584.2L138.4 577.9L139.5 587.1L141.3 575.4L142.5 574.3L144 574.9L145.8 582.8L147.4 586.3L149.4 593L150.9 583.9L152 580.7L153.6 599.4L154.7 582L156.8 581.5L158.3 578.6L160 565L160.8 581.1L162.6 580.4L164.3 574.5L165.8 582.6L166.9 581.1L168.9 596L170.6 590.7L172.2 585.9L173 597L174.7 577.4L176.8 579.8L178.1 578.4L179.8 583.4L180.8 604.3L182.3 577.4L184.1 582.9L185.5 566L186.9 576.2L188.7 593L189.8 594.9L192.2 582.5L193.1 580.7L194.3 579.2L196.6 566L197.6 565L199.1 573.2L201 576.9L202.3 581.5L203.9 574.9L205.9 594.7L206.9 573.8L209 580.9L209.8 566L211.4 594.4L213.4 573.4L215 576.5L216.5 581L217.3 567.1L219.4 587.1L221.1 589.9L222 584.8L224.1 571.1L225.9 571.9L226.5 588.5L228.7 575.2L230.2 557.5L231.2 585.3L232.6 586.4L234.6 581.7L235.9 576.1L237.9 585.7L239.5 574.5L240.4 576.7L241.9 577.2L244.1 595.7L245.3 580.8L246.6 584.8L248.6 575.7L250.2 606.7L251.9 570.7L252.7 572.1L254.9 591.6L256.1 577.8L257.1 591.7L258.7 591.6L260.3 573.3L262.3 569.1L263.7 578.9L264.8 566.5L266.6 580.5L268.6 567.9L270.1 574.7L271.5 566L273 568.8L274.6 577.7L275.5 582L277.9 576.1L279.3 573.5L280.5 569.2L282.2 585.9L283.7 582L285.3 588.7L286.6 571.1L288.1 597.6L290.1 589.1L290.8 579.8L292.5 582.8L294.6 590.9L296 584.5L296.9 578.4L299 585.9L300.1 581.1L302.2 586.1L303.2 565.6L304.8 586.5L306.4 584.6L308.4 590.8L309.5 593L310.7 587.4L312.6 578.3L313.9 585.8L315.8 581.8L316.8 591.7L318.6 598.6L320.1 584.5L322 591.2L323.5 587.9L325.1 584.9L326.4 583.4L327.8 583.6L329.9 588.1L330.8 597.1L332.9 587.5L334.3 597.7L335.3 589.5L336.8 594.6L338.4 602.2L340.4 590.9L342 580.5L343.5 592L344.5 601.3L346.2 604L347.6 591.8L349.5 602.8L350.9 609.8L352.4 599L353.7 600.9L355.6 601.5L356.6 598.4L359 610.6L360.4 603.2L361.6 597.5L363.3 597.8L365.1 591L365.9 605.9L368 606.1L368.9 609.3L370.9 594.3L372.2 600.3L374 596.6L375.6 608.6L376.7 602.4L378.1 600.4L379.9 600.1L381.5 608.3L382.6 602.7L384.6 608.5L385.9 594.1L387.4 613L389 604.4L390.4 617.7L392 625.5L394 616.9L395.3 595.2L396.4 590.7L398.4 602.8L399.6 605.4L401 615.9L403.2 598L404.8 601.8L406.3 604.8L407.4 604.4L409.1 610.6L410.5 588.8L412.2 618.2L414 604.8L415.5 608.7L416.5 607.2L418.1 609.4L419.6 613.7L421.6 621.6L422.5 611.6L424.2 616.7L426.2 618L427.6 617.3L428.7 625.9L430.2 617L431.9 617.1L433.1 604.6L435 609.6L436.6 626.5L437.8 612.9L439.9 631.4L441.3 626.8L442.9 613.4L444.5 622.6L445.5 616.7L447.7 616.1L448.9 628.4L450.4 614.7L451.6 621L453.8 628.1L455 616.5L456.1 619.2L457.9 606.7L460 612.3L460.9 614.7L462.7 624.2L464.4 616L465.3 622.3L466.8 620.5L468.9 616.1L470.1 626.6L471.9 610.3L473.6 617.8L474.8 628.2L476.6 621.8L478.4 618.2L479.4 619.3L481.2 625.9L483 634.5L484.2 628.2L485.2 623L486.8 623.1L489.1 628.4L489.8 621.2L491.7 622L493.2 619.2L495.1 619.9L495.9 616L497.7 635.9L499 622.1L500.9 647.1L502.7 628.3L503.7 626.7L505.5 635.7L506.9 619.2L508.7 620.6L509.9 629.1L512.1 621.3L512.9 617.9L514.5 644.1L516.2 627" fill="none" stroke="none" marker-start="url(#m0)" marker-mid="url(#m0)" marker-end="url(#m0)"/>
<path d="M135.5 604.3L136.6 598.9L138.4 603.5L139.7 591.5L141 598.5L143.1 599.9L143.9 606.5L146 607.6L147 606.6L148.8 602.5L150.4 615.8L151.7 610L153.1 605.8L155.1 605.1L156.5 610.5L158.2 603.2L159.5 595.4L161.3 609.7L162.8 599.2L164.1 610.9L166 606L167.6 594.7L168.7 595.1L170.6 600.9L171.7 602.3L173.5 587.3L175 613.5L176.7 594.1L178.2 605.7L179.9 611.9L180.9 591.6L182.3 604.6L183.7 596.6L185.9 603.4L187 594.3L188.6 598.7L190.1 590.6L191.8 603.3L193.6 602.3L194.6 608.8L196.5 590.3L198.3 594L199.8 595.4L200.6 598.3L202.3 590.2L204.4 592.6L205.6 591.1L206.7 591.7L208.6 574.8L210.5 588L211.8 590.4L213.5 595.6L215.1 578L216.5 580.9L218.2 582L219.4 577.9L221.3 576.7L222.2 587.9L224.1 589L225.1 591.1L227.4 570.2L228.5 580.1L230.4 568.6L231.5 573.2L233.1 579.4L234.7 555.9L236 570L237.8 567.6L239.1 569.9L240.3 563.3L242 572.5L243.9 576.7L245.3 569.2L246.4 564.2L248 562.7L250.1 569.2L251.1 567.4L252.7 558.5L254.4 571.6L255.6 571.6L257.6 559L259.5 565.2L260.3 562.9L262.6 562.2L263.4 568.7L265.5 563.5L266.6 559.1L268 563.1L269.4 559.3L271.1 563.3L272.5 571.9L274.5 565.8L276 562.6L277.2 565.2L279.3 560.6L280.5 553.7L282.3 560.1L283.9 563.1L284.7 557.8L286.4 551.4L287.9 561L290.1 557.2L291.6 570.7L292.4 554.8L293.9 559.8L295.5 566.3L296.9 552.4L298.6 565.6L300.8 542.9L301.8 563.4L303.9 558.2L304.9 560.5L306.1 563.5L308.5 563.1L310 547.3L311.6 547.9L313.1 553.7L314.6 553.3L315.5 559.4L316.9 535.1L318.3 555.3L320.7 541.4L322.2 548.5L323.2 541.5L324.8 543.3L326.8 539.5L327.9 545.7L329.4 537.8L331.2 554.7L332.4 550L334.2 552.9L336 548.9L337.3 547.1L338.6 544.8L340.1 552.9L341.7 546L343.2 547.7L344.9 557.8L346.6 543.1L347.5 539.8L349.8 551.6L350.8 563.2L352.4 541.1L353.6 551.7L355.8 539.3L356.8 547.8L358.3 541.6L360.5 538.2L361.9 540.1L363.4 549.8L364.4 532.8L366.3 539.8L367.7 544.7L368.9 543L371.3 550.4L372.6 531L373.9 546.6L375.1 545L376.5 547.5L378.3 536.5L380.4 543.5L381.1 540.2L383 543.3L384.2 547.8L386.3 536L387.4 534.3L389 539.2L390.5 537.4L392.1 547.6L394 537.9L394.9 539.1L396.5 550.2L398.4 553.7L400.1 540.5L401.2 536.1L403.3 540L404.8 536.1L406 538.8L407.3 548.1L409.2 542.3L410.2 537.1L412.2 549.7L414.1 542.3L415.2 547.7L417 537L418.2 540.1L419.4 539.3L421.7 535.4L422.5 543.9L424.7 539.6L426.2 544.3L427.3 556.9L429 542.6L430.3 536.4L432.5 543.3L433.5 538.8L434.7 535.3L437.1 543.3L437.9 530.5L439.7 534.7L441.3 540.1L442.3 519.1L444 535.3L445.9 536.4L446.9 533.7L449.1 534.1L450.6 524.6L451.6 535.2L453 536.2L454.6 539.2L456.9 534.8L457.8 533.9L459.5 545.8L461.1 537.2L462.3 539L463.9 535.2L465.3 523.7L467 532.6L469.1 521.9L470 529.8L472.1 535.2L473.7 525.3L474.9 526.2L476.9 516.3L477.8 533.3L479.6 531L481 530L482.4 526.1L484.4 531.7L485.3 530.5L486.9 527.1L488.6 522.5L490.2 535.8L491.4 525.7L493.2 536.2L495 533.8L496 530.3L497.7 536.6L499.2 535.3L500.7 515.8L502.9 519.8L504.2 530.3L505.3 533.3L507.1 518.7L509 529.3L509.7 526.8L511.5 531.3L513.3 528.9L515.1 527.7L516 516.4" fill="none" stroke="none" marker-start="url(#m1)" marker-mid="url(#m1)" marker-end="url(#m1)"/>
</g>
<rect x="95.5" y="425" width="436.6" height="283.5" fill="none" stroke="#262626" stroke-width="1.3"/>
<path d="M135.1 708.5v4.5M214.5 708.5v4.5M293.9 708.5v4.5M373.3 708.5v4.5M452.7 708.5v4.5M532.1 708.5v4.5M95.5 682.7h-4.5M95.5 631.2h-4.5M95.5 579.6h-4.5M95.5 528.1h-4.5M95.5 476.5h-4.5M95.5 425h-4.5" stroke="#262626" stroke-width="1.2"/>
<g font-family="DejaVu Sans" font-size="20.7" text-anchor="middle" fill="#000" stroke="#000" stroke-width="0.45"><text x="135.1" y="733.6">0</text><text x="214.5" y="733.6">50</text><text x="293.9" y="733.6">100</text><text x="373.3" y="733.6">150</text><text x="452.7" y="733.6">200</text><text x="532.1" y="733.6">250</text></g>
<g font-family="DejaVu Sans" font-size="20.7" text-anchor="end" fill="#000" stroke="#000" stroke-width="0.45"><text x="86.2" y="690.7">60</text><text x="86.2" y="639.2">80</text><text x="86.2" y="587.6">100</text><text x="86.2" y="536.1">120</text><text x="86.2" y="484.5">140</text><text x="86.2" y="433">160</text></g>
<text x="313.8" y="763.3" font-family="DejaVu Sans" font-size="26" text-anchor="middle" fill="#000" stroke="#000" stroke-width="0.4">Time (min)</text>
<text transform="translate(32.3 562.2) rotate(-90)" font-family="DejaVu Sans" font-size="26" text-anchor="middle" fill="#000" stroke="#000" stroke-width="0.4">Volume (pL)</text>
<rect x="108.7" y="435.3" width="159.6" height="67.4" rx="3" fill="#fff" fill-opacity="0.8" stroke="#d0d0d0" stroke-width="1.3"/>
<circle cx="139.1" cy="451.7" r="3.85" fill="#2859ab" stroke="#1d417f" stroke-width="1.3"/>
<circle cx="139.1" cy="482.4" r="3.85" fill="#ea1d2b" stroke="#bf1c29" stroke-width="1.3"/>
<g font-family="Liberation Sans" font-size="21.2" letter-spacing="-0.4" fill="#111"><text x="169.7" y="460.1">C5 0.08M</text><text x="169.7" y="490.8">C5 0.8M</text></g>
<text x="520.5" y="453" font-family="Liberation Sans" font-size="24.3" letter-spacing="-0.6" text-anchor="end" fill="#111">20 µm</text>
<clipPath id="ca6"><rect x="627.9" y="425" width="436.2" height="283.5"/></clipPath>
<g clip-path="url(#ca6)">
<path d="M672.2 600.8L673.4 610.2L675.3 605.1L677 601.4L678.7 613L679.5 607L681.8 601.9L683.5 600.1L684.3 594.8L685.8 599.5L687.5 610.3L689.5 609L690.3 608.2L692.2 603.9L693.8 602.6L695.9 605.2L696.8 605.4L698.6 600.4L700.3 598.1L701.2 595.1L703.5 605.5L704.7 599.1L706.6 610.5L707.8 606.1L709.8 602.1L711.3 604.8L712.2 608.6L713.6 608.2L715.2 607.1L717 606.3L719 604.4L719.8 613.1L722 612.5L723 607.8L724.4 612.1L726 613.3L727.5 612.1L729.3 610.3L731 617.4L732.9 608.5L733.8 616.7L736 616L737.1 610.6L739.1 606.9L739.9 609.4L741.9 606.6L743.5 605L744.7 602.8L746.2 595.8L748.3 607.1L749.9 608.1L751 609.8L753 601.9L754.2 610.5L755.3 609.2L757.1 619.1L759.1 605.4L760.7 608.9L762.3 607.2L763.2 598.7L765.1 604.9L766.2 608.6L768 612.5L769.2 601.8L771.1 611.1L773 610.3L774.5 609.1L775.6 611.3L777.7 615L779.1 607.6L780.1 606.8L782.3 607.5L783.1 606.2L784.7 603.5L786.9 608.1L788.3 610.4L790.2 609.8L791.5 610.7L793.1 607.3L794.6 606.5L795.8 608.1L797.6 617L799.1 606.8L800.2 612.6L802 614.4L803.5 608.5L805.5 607.6L806.4 611L808.4 614.7L809.9 615.1L811.5 611.1L812.7 614.2L814.2 616.6L816 612.3L817.7 612.2L818.7 613.7L820.7 616.5L821.9 613.5L824.1 615.9L825.1 615.1L827.4 609.7L828.1 618L830.4 618.1L831.9 614.3L832.7 614.6L835.1 628.2L836.6 630.3L837.9 622.1L839.7 617.1L840.7 621.5L842.6 616L844.1 624.5L845.8 620.3L847.3 625.3L848.7 626.7L850.6 637.4L852.2 626.3L853.5 623.3L854.8 619.2L856.9 620.1L857.9 624.8L859.9 621.7L861.3 622.6L862.1 635.8L864.5 627.6L865.9 621.9L866.8 619.4L868.7 631.3L870.3 631.3L872.1 627.7L873 626.9L875.4 629.5L876.2 629.7L878.1 632.6L879.4 637.2L880.9 640.3L883.2 640.5L884.3 635.8L886.2 641.6L887.3 638.5L888.7 641.7L890.6 636.7L891.6 640.1L893.5 631.2L894.9 643.8L896.2 640.7L898.3 637.7L899.5 627.5L901.4 644.4L902.9 646.4L904.1 641.5L905.8 644.1L908 645.9L909.5 646.5L911.1 644.1L911.8 656.3L913.8 656.9L915.1 654.7L917 651.1L918.4 644.2L919.4 651.2L921.8 653.5L923.3 644.4L924.8 658.1L925.7 654.4L927.9 645.9L929.3 654.1L930.3 659.5L932.2 652L933.5 652.8L935 646.4L936.4 656.9L937.9 652.1L940 650.1L941.2 660.6L942.8 651.5L944.2 655.5L945.8 646.7L947.2 658.8L948.8 652.5L950.9 651.9L952.9 651.1L953.5 651.3L955.6 660.7L957 654.2L958.3 657.4L959.7 659.2L961.2 660.5L962.9 660L964.5 653.1L966.2 657.5L967.4 651.7L969.8 659.2L970.7 653.5L972.2 664.4L973.7 657.2L975.2 661.2L977.2 656.9L978.7 655.9L979.8 662.1L981.3 663.6L983.8 667.2L985.2 659.6L986.2 662.6L988.4 668.9L989.9 658.4L991.4 663.8L992.6 670.1L994.3 663.3L996.2 659.9L996.9 660.8L999.1 664.6L1000.5 662.9L1002.4 664.1L1003.7 660.8L1004.7 661.7L1006.6 670L1007.6 664.8L1009.9 657.7L1010.9 650L1012.4 663L1014.1 674.3L1015.9 670.5L1017.4 673.5L1018.4 673.8L1020.7 672.6L1022 669.4L1023.6 672.4L1025.1 670.7L1027 676.8L1028.6 677L1030.1 665.8L1031.8 678.6L1033.1 672.7L1034.3 667.7L1035.5 674.3L1037.4 677.3L1038.8 668L1040.6 667.9L1042.1 663.7" fill="none" stroke="none" marker-start="url(#m0)" marker-mid="url(#m0)" marker-end="url(#m0)"/>
<path d="M672.2 661.9L674.1 659.9L675.6 666.2L676.3 662.8L677.9 660.5L679.9 667.1L681.8 658.7L682.8 660.5L684.4 655.8L686.4 657.6L687.2 656L689.6 654.8L691.3 657.1L692.6 654.7L694.4 658.1L695.4 663.9L696.6 659L698.8 657.6L700.6 653.1L701.9 656.9L702.7 655.8L704.5 653.3L706 652.5L708.1 660.9L709 654.5L710.4 657L712.4 651L714 649.1L715.5 651.1L717.1 655L718.8 653.2L720.3 646.8L721.6 649.6L722.8 653.5L725.1 648.4L726.1 648.9L727.5 653.2L729.8 648.7L730.7 651.6L733 647.7L734 648.7L736.1 647.5L737.7 655.8L739.3 647.4L740.6 649.4L741.6 642.7L743.6 648.1L745 647.9L746.7 652.8L747.9 653L749.7 649.4L751.1 645.3L752.6 651L754.1 644L756 645.9L757.2 651.3L758.9 644L760.4 650.1L761.6 645.8L763.8 649.6L765.3 646.3L766.9 643.5L768.2 648.9L770 643.8L771.3 649.1L772.4 648L774.1 643.6L776.2 645L777.6 643.9L779.4 650.4L780.1 639.6L782.4 647.9L783.6 651.1L784.7 646.4L786.6 646.7L788.5 640.9L789.6 644.7L791.7 647L793 647.8L794.3 641.6L796.5 643.7L798.1 644.6L798.9 648.1L800.8 639.6L801.9 643L803.8 640.9L805.4 642.2L806.8 644.7L808.2 646.4L809.6 639.9L811 638.8L813.2 643.7L814.7 642.2L816.1 635.7L817.5 640.5L819.2 637.5L821.1 643.4L822.6 641L824.3 639.1L825.1 636.8L826.5 639.6L828.9 635L830.1 634.1L831.5 638.5L833.5 631.4L835 628.8L836.5 636.4L837.5 628.4L839.3 635.5L841.4 625L841.9 629.7L844.3 634.2L845.9 619.5L847.4 624.3L848.9 624.2L850.5 628.7L851.3 622.5L853.1 625.2L854.6 628.1L856.5 624.3L857.9 624.5L859.8 626.4L861.2 626.1L863 620.8L864.1 627.3L865.5 619.8L866.9 625.5L868.3 623.9L870.2 624.3L871.8 621L873.8 615.8L875.3 623.1L876.8 618.1L877.8 623.4L879.6 619.1L881.3 620.2L883.1 617.7L884 619.8L886.2 613.5L887.2 620.1L889.2 614L890.6 615.6L892.1 619.2L893.4 617.2L894.7 612.1L896.2 618.3L898.5 613.4L899.2 619.6L901.5 604.8L902.6 615.7L904.7 607.2L905.7 607.6L908 609.3L908.9 610.4L910.9 610L911.9 615L913.5 604.9L915.2 613.1L916.9 611.7L918.2 613.5L919.5 611.2L921 606L923.2 610.6L924.6 601L926.1 604.6L927.5 603.3L929.5 607.6L930.2 604.1L932 602.6L933.4 605.1L935.1 608.7L936.8 602.2L938.5 602.3L940 602L941.8 606.4L943.4 604.4L944.8 606.6L946.6 602.9L947.9 605.1L949.2 606L950.9 600.5L952.9 596.9L953.6 597.9L955.9 607.4L956.5 602.6L958.3 598.1L959.8 597.8L961.4 600.3L962.9 596.8L964.8 597.6L966.3 599.3L967.6 599.3L969 594L970.6 595.8L972.4 601.4L974.2 597.2L975.7 594.5L977.6 595.4L979.2 592.8L980.2 591.6L981.7 596.2L983.1 596.9L985.3 589.4L986.1 595L987.8 590.6L989.2 590.5L991 592.6L992.1 597.4L994.2 590.6L995.8 585.6L996.9 586.2L999.3 587.2L1000.6 589.5L1001.8 589.5L1003.7 588.5L1004.7 595.7L1006.7 591.1L1008 592.8L1009.8 588.5L1010.7 591.9L1012.3 591.3L1013.9 590.5L1015.5 590.8L1017.3 594L1018.7 590.9L1020.1 590.9L1021.9 582.8L1023.1 591.2L1025.2 594.3L1026.5 585.2L1027.7 589.4L1029.8 590.5L1031.6 584.9L1032.7 590L1034.4 592L1036.3 584.3L1037.1 592.9L1038.6 591.9L1041.1 586.2L1042.1 578.9" fill="none" stroke="none" marker-start="url(#m1)" marker-mid="url(#m1)" marker-end="url(#m1)"/>
</g>
<rect x="627.9" y="425" width="436.2" height="283.5" fill="none" stroke="#262626" stroke-width="1.3"/>
<path d="M672.2 708.5v4.5M761.1 708.5v4.5M850.1 708.5v4.5M939 708.5v4.5M1027.9 708.5v4.5M627.9 682.7h-4.5M627.9 631.2h-4.5M627.9 579.6h-4.5M627.9 528.1h-4.5M627.9 476.5h-4.5M627.9 425h-4.5" stroke="#262626" stroke-width="1.2"/>
<g font-family="DejaVu Sans" font-size="20.7" text-anchor="middle" fill="#000" stroke="#000" stroke-width="0.45"><text x="672.2" y="733.6">0</text><text x="761.1" y="733.6">50</text><text x="850.1" y="733.6">100</text><text x="939" y="733.6">150</text><text x="1027.9" y="733.6">200</text></g>
<g font-family="DejaVu Sans" font-size="20.7" text-anchor="end" fill="#000" stroke="#000" stroke-width="0.45"><text x="618.6" y="690.7">60</text><text x="618.6" y="639.2">80</text><text x="618.6" y="587.6">100</text><text x="618.6" y="536.1">120</text><text x="618.6" y="484.5">140</text><text x="618.6" y="433">160</text></g>
<text x="846" y="763.3" font-family="DejaVu Sans" font-size="26" text-anchor="middle" fill="#000" stroke="#000" stroke-width="0.4">Time (min)</text>
<text transform="translate(564.7 562.2) rotate(-90)" font-family="DejaVu Sans" font-size="26" text-anchor="middle" fill="#000" stroke="#000" stroke-width="0.4">Volume (pL)</text>
<rect x="641.4" y="435.3" width="169.9" height="67.4" rx="3" fill="#fff" fill-opacity="0.8" stroke="#d0d0d0" stroke-width="1.3"/>
<circle cx="671.8" cy="451.7" r="3.85" fill="#2859ab" stroke="#1d417f" stroke-width="1.3"/>
<circle cx="671.8" cy="482.4" r="3.85" fill="#ea1d2b" stroke="#bf1c29" stroke-width="1.3"/>
<g font-family="Liberation Sans" font-size="21.2" letter-spacing="-0.4" fill="#111"><text x="702.4" y="460.1">C12 0.08M</text><text x="702.4" y="490.8">C12 0.8M</text></g>
<text x="1047.8" y="453" font-family="Liberation Sans" font-size="24.3" letter-spacing="-0.6" text-anchor="end" fill="#111">20 µm</text>
<clipPath id="ca7"><rect x="1159.6" y="425" width="436.4" height="283.5"/></clipPath>
<g clip-path="url(#ca7)">
<path d="M1199.2 444.4L1200.5 468.6L1202 449.6L1204.1 464.3L1205.5 472.9L1207.6 464.2L1208.8 453.5L1210 455.2L1211.5 471.1L1213.7 461.5L1215.1 463.6L1216.8 467.7L1218.1 463.3L1219.6 461.2L1221.3 473.1L1223.3 458.9L1225 476.8L1226.6 468.4L1227.6 454L1229.8 470.9L1231.4 467.7L1232.3 456.8L1234.7 467L1236.1 479.2L1237.1 470.6L1238.6 472.9L1240.6 476.5L1242.3 484.9L1243.8 457L1245.8 470.7L1247.2 479.3L1248.2 475.4L1250.5 475.1L1251.9 476.8L1253.2 464.9L1255.4 465.9L1256.8 485.3L1258.6 484.1L1260.2 482.4L1261.2 486L1262.6 439.9L1264.3 474.9L1265.7 470.4L1267.6 462.3L1269.6 477.4L1270.9 484.2L1272.5 456.1L1273.8 478.8L1275.5 463.2L1277.2 475.4L1278.4 447.6L1280.8 462.9L1281.6 472.4L1283.8 485L1285.1 480.5L1287.1 493.6L1288.3 480.9L1290.1 491.4L1291.6 471.5L1292.9 475.8L1294.9 477.6L1296.4 449.9L1297.6 476L1299.1 468.5L1300.8 471.1L1302.5 481.7L1304.3 485.7L1305.8 459L1307.4 486.1L1308.7 472L1311.2 477.4L1312.2 466.4L1313.8 452.8L1315 480.8L1317.1 464.8L1318.8 456.9L1319.9 478.2L1321.5 484.2L1323.3 473.7L1325.4 473L1326.7 463.3L1328.1 484.4L1329.8 466.8L1331.5 485.9L1332.9 466.6L1334.5 473L1335.9 496.5L1337.9 468L1339.3 479.9L1340.9 461.3L1342.5 468.7L1344.2 486.3L1345.9 488.9L1347.1 476.8L1348.7 487.3L1350.2 452L1352.5 464.2L1353.6 476.2L1355.5 471.7L1357.2 479.6L1358.7 471.7L1359.6 491L1361.9 478.9L1363.4 470.5L1364.9 488.4L1366.7 472.5L1367.7 480.6L1369.6 460.5L1371.2 465.3L1372.5 488.1L1374 490.3L1375.9 480.4L1377.9 458.5L1378.8 462L1380.9 467.3L1382.4 474.2L1383.6 476.3L1385.3 467.6L1386.9 473.3L1388.6 486.3L1390.4 484.8L1391.8 469.4L1393.3 462L1394.7 476L1397.1 491.4L1397.8 481.1L1400.2 485.7L1401.9 467.2L1402.6 470L1404.6 482.1L1406.2 456.6L1407.7 467.1L1409.5 477.5L1411.2 471.4L1413 474.3L1414.5 456.5L1415.8 463L1417.4 468.4L1419.2 466L1420.9 462.4L1422.5 485.1L1424.1 481.1L1425.3 483L1427 474.5L1428.7 491L1430 464.1L1432 500.8L1433.3 487.7L1434.8 495.7L1436.3 470.9L1438.2 487.8L1439.4 479.6L1440.9 475.6L1442.9 461.2L1444.9 469.6L1446.2 479.6L1447.9 482.2L1448.9 473.3L1451.2 474.5L1452.6 464.2L1454.2 485.7L1455.6 477.9L1457.5 475.1L1458.4 476.1L1460.8 457.3L1461.8 472L1463.4 475L1465.3 473.9L1467.1 470.3L1467.9 480.8L1469.9 470.3L1471.7 465.1L1473.6 468.8L1474.6 485.5L1475.9 481L1478.1 467.5L1479.2 466.7L1480.8 472.3L1483.2 477.1L1484.7 482.7L1485.5 477.1L1487.6 489.6L1488.8 492.2L1491.1 479.5L1492.1 467.4L1493.8 474.8L1495.6 468.4L1496.8 473.6L1498.4 464L1500.7 474.1L1501.7 469.1L1503.7 456L1504.9 476.2L1506.9 459.5L1507.8 481.1L1509.7 456L1511.6 472.7L1512.9 481.2L1514.1 477L1516.2 463.2L1518.2 481.3L1519.8 477L1521 467.7L1522.8 484.1L1523.9 480.2L1525.6 479.1L1527.6 483.7L1529.1 480.1L1530.6 468.9L1532.4 485.6L1533.8 479.5L1534.9 469L1537.1 477.3L1538.6 474.6L1539.6 461.2L1541.5 478.8L1543 473L1545 476.1L1546.7 468.8L1548.4 488.4L1549.8 485.6L1551.4 477.9L1552.5 464.7L1554.3 480.4L1555.9 479.5L1557.5 470.9L1559.4 496.8L1560.9 470.7L1562.7 473.3L1563.8 454.2L1565.2 471.7L1566.9 481.9L1568.5 474.4L1570.1 474.5L1572.3 478L1573.4 498.2L1575.5 481.8L1577.1 480L1577.8 479.3L1579.8 475.8" fill="none" stroke="none" marker-start="url(#m0)" marker-mid="url(#m0)" marker-end="url(#m0)"/>
<path d="M1199.4 593.9L1200.5 589.2L1202.3 593.5L1204.2 592.6L1205.7 589.1L1207.3 589.6L1208.7 594L1210.4 589.3L1212.3 594L1213.2 594.1L1214.8 581.4L1216.3 587.2L1218.4 593.3L1219.6 594.7L1221.3 598.5L1223.6 597.8L1225 593.3L1225.9 594.1L1228.3 596L1229.4 594L1231.1 595L1233 591.8L1234.2 597.7L1235.5 593.7L1237.2 601.1L1238.8 594.3L1240.6 594.2L1241.7 600.1L1243.4 597.6L1245.7 594.4L1247.4 599.1L1248.2 592.7L1250.4 591.8L1251.6 602.1L1253 593.5L1254.9 595.8L1256.1 600.1L1258.4 591L1260.2 597.2L1260.9 594.6L1262.4 598.2L1264.8 599.6L1265.6 604.2L1267.8 600.5L1269.2 590.6L1270.5 601.2L1272.5 601.1L1274 600.6L1275.5 594.6L1277.4 599.4L1278.8 599.4L1280.3 599.7L1281.8 599L1283.3 597.7L1284.8 602.2L1286.8 604.5L1288.8 597.4L1290.2 594.2L1291.2 594.5L1293.2 597.9L1295.1 603.2L1295.9 591.8L1297.8 598.3L1299.6 600.6L1300.8 594.9L1303 588.3L1303.9 600.3L1306 595.8L1307.5 596.3L1308.9 597.7L1310.5 590.5L1311.9 599.1L1314 604.7L1315.7 598.4L1317.4 597.3L1318.3 592.2L1320.3 595.9L1322.2 595.5L1323.2 591.7L1325 601.9L1326.8 595.4L1328.2 593.3L1329.4 597.5L1331.8 599.2L1333.2 600.4L1335 596.9L1336.6 604.9L1337.8 597.1L1339.8 604.8L1340.7 597.6L1342.4 600.1L1344.2 594.9L1345.4 604.4L1346.9 605L1348.8 596.3L1350.5 599.4L1351.9 601.9L1353.3 600.6L1355.6 593.6L1357 600.7L1358.2 599.7L1360.3 598.3L1361.4 598.1L1363.4 598.7L1365.3 602.8L1366.8 599L1367.6 597.7L1369.1 599.3L1371.6 593.3L1372.5 601.5L1374.9 596.1L1375.8 596.4L1377.2 597.9L1378.8 602L1381.1 600.8L1382.3 606.2L1384.1 600.6L1385.7 603.1L1386.9 591.7L1388.4 597.1L1390 595.1L1392.3 602.9L1393.8 599L1394.7 602.9L1396.6 599.8L1397.8 592.4L1400.3 594.9L1401.1 596.9L1402.7 602.3L1405.1 592L1406.1 596.8L1407.6 604.5L1409.9 596.5L1411.4 593.8L1412.3 595.7L1414.1 601.1L1415.8 605.2L1417.3 599.2L1419.1 601.7L1420.6 594.6L1422.2 594.6L1423.9 597.5L1425.6 597.8L1427 602.2L1428.8 593.8L1430 601.9L1432 602.7L1433.1 595.4L1435.2 601.3L1436.4 597.1L1437.6 602.7L1439.4 603L1441.3 595.1L1442.6 599.5L1444.7 597.7L1446 604.5L1448 601.8L1448.9 607.6L1450.8 591.9L1452.4 603.4L1454.1 599.4L1455.8 595.9L1457.5 596.6L1458.5 601.8L1460.2 597.6L1462.3 600.5L1463.1 603.1L1465.4 601.7L1466.4 601.2L1468.8 597.4L1469.7 601.3L1471.8 605.9L1473.1 595.9L1474.9 606.2L1476.1 602.9L1477.5 600.6L1479.2 598.9L1480.9 605L1483 595L1484.5 603.1L1485.8 602.4L1487.7 603.8L1489.5 603L1490.4 597L1492.1 595.6L1494.1 600.6L1495.1 595L1496.7 591.8L1498.5 600.7L1500.6 601L1501.9 603.8L1503.5 600.5L1504.9 597L1506.4 600.3L1507.7 602.2L1510 599.1L1511.1 603.6L1512.5 600.4L1514.3 602.7L1516.6 607.5L1517.9 592.2L1519.7 602.5L1521.2 598.9L1522.8 600.6L1524.5 600.4L1525.3 597.8L1527.1 599.4L1528.6 597.7L1530.4 603.5L1532.1 602.2L1533.5 596L1535.5 601.1L1536.5 603.3L1538 597.9L1540.4 603.6L1541.7 600.7L1543.2 604.8L1545.1 599.5L1546.4 604.7L1548.2 601.8L1549.3 600.7L1550.8 598.6L1552.8 602.4L1554.2 597.6L1555.9 598.9L1557.9 598.1L1559.4 609.3L1561.1 600.2L1562.1 594.5L1563.6 600.7L1565.4 601.3L1567.6 599L1568.7 601.4L1570.4 599.3L1572.3 598.4L1573.6 599.9L1575.1 596.9L1576.3 600.8L1577.9 602.2L1579.7 596.4" fill="none" stroke="none" marker-start="url(#m1)" marker-mid="url(#m1)" marker-end="url(#m1)"/>
</g>
<rect x="1159.6" y="425" width="436.4" height="283.5" fill="none" stroke="#262626" stroke-width="1.3"/>
<path d="M1199.2 708.5v4.5M1278.5 708.5v4.5M1357.8 708.5v4.5M1437.1 708.5v4.5M1516.4 708.5v4.5M1595.7 708.5v4.5M1159.6 682.7h-4.5M1159.6 631.2h-4.5M1159.6 579.6h-4.5M1159.6 528.1h-4.5M1159.6 476.5h-4.5M1159.6 425h-4.5" stroke="#262626" stroke-width="1.2"/>
<g font-family="DejaVu Sans" font-size="20.7" text-anchor="middle" fill="#000" stroke="#000" stroke-width="0.45"><text x="1199.2" y="733.6">0</text><text x="1278.5" y="733.6">50</text><text x="1357.8" y="733.6">100</text><text x="1437.1" y="733.6">150</text><text x="1516.4" y="733.6">200</text><text x="1595.7" y="733.6">250</text></g>
<g font-family="DejaVu Sans" font-size="20.7" text-anchor="end" fill="#000" stroke="#000" stroke-width="0.45"><text x="1150.3" y="690.7">60</text><text x="1150.3" y="639.2">80</text><text x="1150.3" y="587.6">100</text><text x="1150.3" y="536.1">120</text><text x="1150.3" y="484.5">140</text><text x="1150.3" y="433">160</text></g>
<text x="1377.8" y="763.3" font-family="DejaVu Sans" font-size="26" text-anchor="middle" fill="#000" stroke="#000" stroke-width="0.4">Time (min)</text>
<text transform="translate(1097.9 562.2) rotate(-90)" font-family="DejaVu Sans" font-size="26" text-anchor="middle" fill="#000" stroke="#000" stroke-width="0.4">Volume (pL)</text>
<rect x="1404.4" y="631" width="178.8" height="67.2" rx="3" fill="#fff" fill-opacity="0.8" stroke="#d0d0d0" stroke-width="1.3"/>
<circle cx="1434.8" cy="647.4" r="3.85" fill="#2859ab" stroke="#1d417f" stroke-width="1.3"/>
<circle cx="1434.8" cy="678.1" r="3.85" fill="#ea1d2b" stroke="#bf1c29" stroke-width="1.3"/>
<g font-family="Liberation Sans" font-size="21.2" letter-spacing="-0.4" fill="#111"><text x="1465.4" y="655.8">MeOH 0%</text><text x="1465.4" y="686.5">MeOH 15%</text></g>
<text x="1171.4" y="697.6" font-family="Liberation Sans" font-size="24.3" letter-spacing="-0.6" text-anchor="start" fill="#111">20 µm</text>
<clipPath id="cb1"><rect x="95.5" y="788.1" width="436.6" height="282.7"/></clipPath>
<g clip-path="url(#cb1)">
<path d="M135.3 892.8L136.7 871.1L138.2 880.6L140 889.1L140.7 884.9L142.4 880.9L144.4 879.3L145.7 877.9L147.1 881.5L148.8 880.4L150.1 884.2L151.6 873.4L153.4 889.7L154.6 880.7L156.5 891.2L158.2 882.7L159.7 878.5L161.5 881.5L163 884.3L164.3 887.7L165.4 874.1L167.2 875.1L169.2 885.6L170.1 883.6L172.2 883.9L172.9 877.9L174.4 873.4L176.5 873.7L177.5 880.1L179.9 882.9L180.8 883.9L182.6 886.4L183.8 871.2L185.8 901.9L187 875.9L188.2 879.6L190 894.1L191.6 877.4L193.2 881.6L195 872.5L196 882.7L197.9 882L199 879.4L200.7 889.1L202.6 870.9L203.9 875.3L205.3 884L207.2 877.7L208.9 870.9L210.3 871.8L211.8 881.8L213.5 881L215 872.1L216.7 886.9L217.3 879.6L218.9 870.4L220.8 869.2L222.8 887L224.3 883.6L225.5 878.4L227.1 878.2L228.7 880.8L229.8 875.6L231.1 868.4L232.8 890.5L234.5 872.2L236 885.1L237.7 877.9L239.6 887L240.5 893.2L242.6 878.8L244 888.1L245.7 881.2L246.9 876.9L248.1 875.5L249.5 895.1L251.6 884.4L253.4 885.7L254.8 870.9L256.2 880.9L257.3 877.8L259.1 889.8L260.3 877.8L261.9 882.4L263.5 871.8L264.8 878.6L266.6 882.7L268.4 877.7L269.6 871.5L271.3 871L272.6 880.2L274.6 871.6L276.1 871.5L277.4 884.6L278.8 877.6L280.6 881.1L282.5 890L284 883.6L285.6 877.5L286.3 874.4L288 872.2L289.4 886.7L291.5 870.2L292.6 873.4L294.7 868.4L295.4 884.2L297.6 872.6L298.6 853.6L300.4 869.6L301.6 860.9L303.5 881.7L305.4 876.4L307 871.4L308.5 868.3L309.4 866.4L311.4 875.5L312.6 880.2L314.6 867.9L315.5 874.4L317.3 885.2L319.2 884.8L320.1 870.5L321.4 880L323.7 870.5L325.1 869.5L326.9 893.2L328.4 877.3L329.7 891.4L330.9 891.4L332.8 891.1L334.2 872.2L335.6 893L337 867.8L338.4 869.1L340 871.1L341.7 864.7L342.9 878.4L344.9 891.7L346.5 883.4L347.8 877.8L349.4 877.7L351.1 891.4L352.1 872.3L353.7 871.7L355.1 878.9L356.6 871.8L358.5 876L360.3 874.4L361.4 882.4L362.9 877.9L364.3 879.1L365.9 871.6L367.8 876.4L369 884L370.6 878.7L372.2 867.6L374.3 890.4L375.8 884L376.9 872.2L378.5 865.5L380.2 878.6L381.7 874.6L383.4 888.8L384.9 887.1L386.5 888L387.4 893.4L389.7 880.4L391 870.6L392.3 881.6L394.1 878.8L395.8 869.7L396.4 883.3L398.3 886.9L400.2 872L401.5 880.1L403.1 867.8L404.5 882L405.6 873.9L407.1 884L408.9 878.4L411 870.5L411.8 879.7L413.5 872.2L414.7 880.2L416.7 886.3L418.3 873.1L419.5 880.7L421.2 863.5L423 880.7L424.6 890.8L426.2 894.9L427.2 896.3L429.2 886.6L430.2 877.6L431.8 889.1L433.5 864.2L434.9 892L436.7 882.4L437.9 886.2L439.3 891L441.4 886.2L442.9 888.9L444.3 885.5L446.2 875.2L447.7 895L448.5 877.2L450.2 876.8L452.1 877.2L453.3 887.5L455.4 887.2L456.6 893.4L458.3 875.9L459.5 884.3L460.7 902.9L463.1 897.6L463.8 886.8L465.3 883.3L467.7 897.7L468.9 882L470.5 871L471.6 885.1L473.7 885.1L475.3 881L476 888.4L477.9 887.5L479.8 891.5L481.2 878.4L482.5 886.5L484 888L485.3 878.2L486.7 889.8L488.5 891.6L490.2 891.1L492 885.3L492.9 891.4L494.9 889.1L496.4 887.9L497.5 860.1L499.2 877.3L500.7 894.1L502.5 888L503.9 871.9L505.7 887L507 886.5L508.2 902.2L510.4 893.4L511.7 884.5L512.7 895L514.5 883.6L516.2 889.6" fill="none" stroke="none" marker-start="url(#m0)" marker-mid="url(#m0)" marker-end="url(#m0)"/>
<path d="M135.1 959.3L137 953.7L138.6 960L140.1 956.7L141.2 959.7L142.8 958.3L144.1 961.6L145.9 957.9L147.2 952.1L148.9 956.9L150.2 954.5L151.6 958L153.9 957.9L155.4 959.6L156.1 952.8L157.8 968.5L160 962.4L161.3 952.9L162.8 967L163.8 962.5L166 953.7L167.4 952.6L168.5 960.4L170.6 952.4L171.4 961.1L172.9 954.5L174.7 961.8L176.8 951.8L177.9 952.2L179.3 958.1L181.5 956.1L182.7 953.8L184.3 950.6L185.6 954.1L187.5 960.2L188.9 951.3L190.4 960.4L191.7 957.9L193 951.2L194.6 961.8L196.5 945.5L197.9 956.5L199.1 964.2L200.9 950.8L202 960.8L204.4 957.9L205.4 949.7L206.8 964.2L208.8 951L210.2 957.2L211.4 949.2L213.5 958.3L214.6 954.9L216 947.2L217.3 955.3L219.2 951.5L220.9 952.8L222.1 950.1L223.4 957.3L225.5 949.3L226.7 948.8L228.7 958.7L229.8 949L231.1 945L233.1 950.4L234.9 956.6L235.7 956.7L237.4 952.9L239.6 954.6L240.9 951.2L242.2 952.7L243.3 944.6L245.8 948.6L246.9 955.6L248 940.7L250.3 948.5L251.9 953.4L253.4 944.4L254.7 954.7L256.1 950.2L258 934.6L259.4 951.3L260.1 946L262 949.4L264.1 945.6L265.4 951.7L266.9 954.5L268.7 944.4L269.7 950.5L271.8 940.8L272.7 949.4L274.4 950.2L276.2 952.7L277 956.6L278.9 946.7L280.5 948.2L281.6 949.7L283.3 945.7L285.2 938.8L287 951.2L288.4 941.1L289.6 945.6L291 945.7L293.2 944.5L294 943.2L295.6 944.5L296.9 943.3L299 955.3L300.6 948.6L302 934.5L303.2 946.2L305.1 940.3L306.6 938.4L308.4 939.4L309.6 944.2L311.2 948.6L312.6 945.4L314.4 940.4L315.3 946.5L317.7 944L319 936.5L320 945.2L322 937.8L323.7 937.4L324.6 948.6L326.2 951.8L328.3 944.9L329.5 950L331.1 948.1L332.8 944.8L333.9 943.7L335.6 955.2L337.5 947.8L338.5 950L340.4 948.5L341.7 951L343.7 947.5L345.1 949.8L346.8 944L347.5 946.9L349 944.8L351.2 941.5L352.2 947.8L354.3 947.8L355.4 941.3L357.5 951.7L358.7 947.2L359.9 949.5L361.7 952.4L363.4 945.5L364.8 941.3L366 952.9L367.3 954.7L369.6 942.1L371.2 953.9L372 951L373.5 944.2L375 942L377 944.2L378.4 943.2L380.1 945.8L381.8 951.3L382.8 943.9L385.1 948.5L385.8 952.5L387.9 944.6L389.5 945.4L391.1 960.1L392.5 952.7L393.3 946.3L395.1 939.9L396.4 938.2L398 947.8L400 943.6L401.3 949.6L403.2 939.2L404.2 943.7L405.6 940.5L407.5 937.7L408.7 956L410.6 943.1L412.1 948.5L414.1 950L415.7 945.3L417.1 952.7L418 942.3L419.9 952L421.4 946.4L423 947L424 951.4L425.8 947.3L427.6 948.9L429.1 944.7L430.3 938.5L431.7 945.7L433.3 940L435.3 948.1L436.2 949.6L438.2 950.8L439.3 947.3L441 942.9L442.9 951.6L444 945.9L445.6 952.4L446.9 952.6L448.9 949.4L450.2 950.8L452.4 946.2L453.5 950L454.7 950.2L456.1 952.9L457.7 952.2L459.9 953.8L461.4 945.3L462.9 943.4L464.6 950.6L465.6 949.4L466.8 943.8L468.7 949.6L469.9 952.8L471.9 949.3L473.1 944.4L474.6 953L476.3 951.5L478 938.8L479.3 954.1L481.2 952.4L482.8 952.5L484.4 951.2L485.1 944.9L487 946.4L489.1 951.8L489.9 950.9L491.7 951.8L493 953L494.7 947.6L496 946.8L498.1 952.5L499.5 951.6L501.3 952.1L502.5 948L503.9 947.8L505.1 951.1L506.7 939.7L508.1 955.5L509.7 956.5L511.2 953L512.9 954.9L514.3 954.2L516.2 952.7" fill="none" stroke="none" marker-start="url(#m1)" marker-mid="url(#m1)" marker-end="url(#m1)"/>
</g>
<rect x="95.5" y="788.1" width="436.6" height="282.7" fill="none" stroke="#262626" stroke-width="1.3"/>
<path d="M135.1 1070.8v4.5M214.5 1070.8v4.5M293.9 1070.8v4.5M373.3 1070.8v4.5M452.7 1070.8v4.5M532.1 1070.8v4.5M95.5 1046h-4.5M95.5 994.4h-4.5M95.5 942.8h-4.5M95.5 891.3h-4.5M95.5 839.7h-4.5M95.5 788.1h-4.5" stroke="#262626" stroke-width="1.2"/>
<g font-family="DejaVu Sans" font-size="20.7" text-anchor="middle" fill="#000" stroke="#000" stroke-width="0.45"><text x="135.1" y="1095.9">0</text><text x="214.5" y="1095.9">50</text><text x="293.9" y="1095.9">100</text><text x="373.3" y="1095.9">150</text><text x="452.7" y="1095.9">200</text><text x="532.1" y="1095.9">250</text></g>
<g font-family="DejaVu Sans" font-size="20.7" text-anchor="end" fill="#000" stroke="#000" stroke-width="0.45"><text x="86.2" y="1054">60</text><text x="86.2" y="1002.4">80</text><text x="86.2" y="950.8">100</text><text x="86.2" y="899.3">120</text><text x="86.2" y="847.7">140</text><text x="86.2" y="796.1">160</text></g>
<text x="313.8" y="1125.6" font-family="DejaVu Sans" font-size="26" text-anchor="middle" fill="#000" stroke="#000" stroke-width="0.4">Time (min)</text>
<text transform="translate(32.3 923.5) rotate(-90)" font-family="DejaVu Sans" font-size="26" text-anchor="middle" fill="#000" stroke="#000" stroke-width="0.4">Volume (pL)</text>
<rect x="109.3" y="798" width="151.6" height="66.6" rx="3" fill="#fff" fill-opacity="0.8" stroke="#d0d0d0" stroke-width="1.3"/>
<circle cx="139.7" cy="814.4" r="3.85" fill="#2859ab" stroke="#1d417f" stroke-width="1.3"/>
<circle cx="139.7" cy="845.1" r="3.85" fill="#ea1d2b" stroke="#bf1c29" stroke-width="1.3"/>
<g font-family="Liberation Sans" font-size="21.2" letter-spacing="-0.4" fill="#111"><text x="170.3" y="822.8">C1 0.8M</text><text x="170.3" y="853.5">C1 8M</text></g>
<text x="520.5" y="818.4" font-family="Liberation Sans" font-size="24.3" letter-spacing="-0.6" text-anchor="end" fill="#111">20 µm</text>
<clipPath id="cb2"><rect x="627.9" y="788.1" width="436.2" height="282.7"/></clipPath>
<g clip-path="url(#cb2)">
<path d="M674.4 932.7L675 934.2L676.5 913.5L677.5 926.9L678.8 908.9L679.8 918.6L681.2 917.7L682.1 933L683.1 931.3L684.6 924.9L686 926.8L686.7 929.8L687.7 943.6L689.5 934L690.7 944.4L691.8 920.4L692.8 928.9L693.7 934.2L695 941L695.9 925.7L697.6 928.4L698.2 934.5L699.8 935.6L701 914.1L701.6 930.4L703.1 915.8L703.9 930.8L705.6 934.1L706.3 935.2L708 922.4L708.9 924.4L709.7 934.3L711.5 925L712.1 923.5L713.3 928.5L715.1 932.7L716.2 929.4L717.4 926.9L718.1 914.5L719.6 923.3L720.2 927.7L722.1 945.5L722.6 935.5L724.3 926.1L725.5 924.2L726.5 919.3L727.3 922.3L728.6 944.2L730 935.8L730.8 927.2L732.1 938.6L733.3 932.3L734.9 943.3L735.3 943.5L736.5 950.8L738.3 934.4L738.9 941.8L740.2 938.7L741.2 948.4L742.8 939.1L743.9 947.8L744.9 941.2L746 938.7L747.2 933L748.2 947.2L749.4 950.4L750.5 944L751.6 940.7L753.4 953.4L754.5 941.3L755.1 935.1L756.8 945.7L757.9 950.3L758.6 947.2L760.1 941L761.4 944.1L762.2 958.7L763.8 942L764.7 954.1L765.7 944L767.3 947.5L768.1 950.6L769.7 950.5L770.2 944L771.6 942.1L773 941.2L774.1 945.2L775.4 947.4L776.6 952.2L777.7 946.3L778.3 940L779.6 943L780.7 953L782 951.9L783.1 950.2L784.2 961.7L785.3 955.9L786.9 946.1L787.6 959L789.4 963.6L790.4 957L791 952.2L792.8 956.1L793.5 960L795.3 965.5L796 956.8L797.4 964.3L798.3 964.3L799.5 964.9L801 971.1L801.5 972.5L802.7 956.5L803.9 970.3L805 978L806.5 966.5L807.5 959L808.8 952L810.1 965.8L811.3 961.6L812.3 963.2L813.3 966.5L814.9 953.4L815.6 963.4L817.2 948.3L818.3 965.8L819.3 962.7L820 965.4L821.8 967.4L822.9 970.6L823.5 970L825 968.4L826.6 959L827.6 959.3L828.7 949.2L829.5 961.4L831.2 961.1L832.4 955.9L832.8 967.3L834.4 953.8L835.9 962.6L836.6 961.2L838.2 962.1L838.8 973.7L840.1 952.9L841 961.2L842.4 968.9L843.3 959.5L844.5 959.6L846.3 949.2L847.1 958.6L848 948.1L849.2 958.6L850.4 954.3L851.8 966.3L852.9 951.1L854.2 945.7L855.1 957.8L856.4 957L857.5 953.2L858.4 949.4L860.2 959.6L861.4 949L862.1 950.9L863.1 956.2L864.3 942L865.9 940.9L866.6 948.6L868.2 955.4L869.5 957.7L870.6 956.7L871.8 951.1L872.5 956.4L874 970.5L875 956.3L876.4 962.5L877.2 959.8L878.4 967.3L879.6 969.7L880.9 965.9L881.9 971.1L883 983.8L884.5 980.1L885.8 961.3L886.3 968.9L887.5 974.1L888.9 969.3L889.9 976.7L891.3 984.8L892.5 970.1L893.5 971.1L894.9 984.6L895.8 973.2L897.2 964.7L898 977.5L899.5 979.1L900.5 981.8L901.7 996.2L903 974.7L903.7 978.1L905.6 981.6L906.4 988.6L907.8 985.8L908.6 986.8L909.8 982.3L911.3 969.5L911.8 973.6L913.5 967.1L914.3 964.1L915.4 971.5L917.1 985.5L917.7 974.2L919.2 974.9L920.1 974.5L921.6 973.7L922.3 978.5L923.6 967.6L925 991.2L926.1 985.6L927.6 987.4L928.4 981.7L929.2 984.2L930.7 980.9L931.7 987.9L932.9 974L934.2 992.1L935.1 982L936.7 979.9L937.6 992.9L938.6 980.9L939.9 978L941 992.5L942.1 981.6L943.5 984.2L944.7 996.7L945.9 985.7L946.6 982.7L948 991.9L949 990.8L950.4 982.7L951.5 981.6L952.8 994.4L953.6 991.1L954.8 989.5L956.5 978.7L957.4 989.1L958.7 1005.5L959.8 993.6L961 993.3L961.8 991.4L963.4 992.6L964.4 991.6L965.8 999.9L967 986.3L967.8 1002.1L968.9 1001.9L970.5 995.3L971 993.7L972.2 991.1L973.8 987.6L975 983.4L976.3 987.1L977.2 978.7L978.4 988.4L979.9 996.7L980.9 992.5L982 990.5L983 1002.1L984.6 993.4L985.1 985.9L986.4 989.9L987.9 995L988.8 1000.7L989.7 992.3L991 988.6L992.4 993.6L993.7 995.6L994.5 986.4L996 993.6L996.7 1009.7L998.4 990.3L999.6 989.7L1000.1 992.5L1001.9 995.4L1002.7 985.3L1004.2 998.3L1004.8 996.4L1006.5 989.7L1007.7 975.2L1008.6 1004.5L1009.6 997.2L1011.1 999.4L1011.8 988.4L1013.1 999.3L1014.7 998.3L1015.8 994.9L1016.3 1003.8L1017.7 988.6L1019.1 1001.7L1020 985.5L1021 988.6L1022.6 1004.4L1023.3 995L1025.1 1009.7L1025.9 998.6L1027.5 998.5L1028.3 1000.1L1029.9 990.5L1030.7 997.4L1031.6 989.7L1033.3 994.1L1034 994.2L1035.6 987.8L1036.5 989.7L1037.3 995.3L1038.9 988L1039.9 991.4L1041.1 994.6L1042.2 993L1043.4 999L1044.4 992.5" fill="none" stroke="none" marker-start="url(#m0)" marker-mid="url(#m0)" marker-end="url(#m0)"/>
<path d="M648.4 875.8L653.4 879.9L658.4 883.9L663.4 887.7L668.4 891.5L673.4 895.1L678.5 898.7L683.5 902.1L688.5 905.4L693.5 908.7L698.5 911.8L703.5 914.8L708.6 917.8L713.6 920.7L718.6 923.5L723.6 926.2L728.6 928.8L733.6 931.3L738.6 933.8L743.7 936.2L748.7 938.5L753.7 940.8L758.7 943L763.7 945.1L768.7 947.2L773.8 949.2L778.8 951.2L783.8 953L788.8 954.9L793.8 956.7L798.8 958.4L803.8 960.1L808.9 961.7L813.9 963.3L818.9 964.8L823.9 966.3L828.9 967.8L833.9 969.2L838.9 970.5L844 971.8L849 973.1L854 974.4L859 975.6L864 976.8L869 977.9L874.1 979L879.1 980.1L884.1 981.1L889.1 982.1L894.1 983.1L899.1 984.1L904.1 985L909.2 985.9L914.2 986.7L919.2 987.6L924.2 988.4L929.2 989.2L934.2 990L939.2 990.7L944.3 991.5L949.3 992.2L954.3 992.9L959.3 993.5L964.3 994.2L969.3 994.8L974.4 995.4L979.4 996L984.4 996.6L989.4 997.1L994.4 997.7L999.4 998.2L1004.4 998.7L1009.5 999.2L1014.5 999.7L1019.5 1000.1L1024.5 1000.6L1029.5 1001L1034.5 1001.5L1039.5 1001.9L1044.6 1002.3" stroke="#17a2a3" stroke-width="3.9" fill="none" stroke-linecap="square"/>
<path d="M674.4 1004.9L675.6 1004.2L676.3 1005.3L677.4 989.6L678.8 1001.3L679.5 1012.2L681.2 1003.4L682.6 1001.4L683.3 1010.3L684.8 1002.5L685.4 997L687.1 1000.7L688.2 993.3L689.1 999.3L690.3 1003L691.6 1016.3L692.7 994.9L693.9 1002.2L695.3 1003.9L696.3 1007.3L697.7 989L698.8 998.6L699.7 1017.3L700.5 995.9L702.1 990.6L702.9 997.3L704.3 1002.9L705.6 992.2L706.4 998.1L707.9 995.8L708.8 996.2L710.3 1000.7L711.2 981.9L712.7 979.9L713.9 993.4L714.7 994.4L716.2 987.8L716.9 981L718.4 993.7L719.5 996.6L720.5 994.4L721.4 981.4L723.2 983.9L724.1 995.2L725.1 988.9L726 982.6L727.3 984.7L728.8 981.1L730.2 989.1L730.9 981.5L731.9 981.5L733 970.8L734.9 975L735.5 986.8L737.1 970.2L737.6 962.1L739.3 976.4L740 984.5L741.4 986.1L742.5 975.4L743.8 989.9L744.8 977.3L746.4 971.8L747 966L748.5 978.2L749.6 966.9L750.7 950.5L752.2 970.8L753.2 961.5L754.4 964.5L755.2 952.8L756.7 966.6L758 955.7L759 976.3L760.2 964.8L760.9 977.6L762.6 972.8L763.7 966.8L764.3 966.9L765.6 951.4L767.2 961.7L768.4 954.7L769.6 965.9L770.6 963.2L771.3 941.2L773.1 959.6L774.1 956.6L775.2 964.6L776.5 955L777.4 952.7L778.6 942.8L779.6 950.3L781.1 955L781.9 942.2L783.4 954.8L784.1 942.4L785.7 940.2L786.5 946.2L787.9 949L789.3 959.8L790.2 932.9L791.2 940.8L792.4 960.3L793.8 953.8L794.7 952.9L795.9 962.8L797 946.7L798.3 953.6L799.3 945.5L800.5 943.2L801.8 952.1L802.7 942.8L804.3 946.6L805.2 942.9L806.7 936.5L807.7 945L808.8 940.7L810 936L811.5 935.4L812 928.8L813.3 938.4L815 936.2L815.4 931.2L817.3 929.1L818.2 931.1L819.4 912.9L820.8 931.6L821.9 916.3L823.1 929.7L824.2 929.9L825.1 918.9L826.5 941.7L827.1 945L828.6 931.4L830 939.5L830.9 944.4L831.7 933.9L833.3 940.6L834.5 932.4L835.2 917.6L837 923L837.5 939.5L839.1 934L840.2 939.8L841.3 932.4L842.3 933.2L843.6 925.9L845.2 924.6L845.8 940.5L846.8 923.6L848.4 912.6L849.2 925.3L850.6 909L851.6 918.7L853.3 936.3L854.4 924.1L855.4 921.6L856.2 937.6L858 928.9L859.1 941.2L860 926.6L860.7 924.9L862.6 946.5L863.6 922.1L864.4 940.4L866 917.8L866.5 934.1L868.1 907.7L869 925.6L870.2 917.3L871.4 924L872.4 938L873.5 920L875.3 920.4L876.3 924.4L877.6 914.9L878.8 920.5L879.6 911.2L880.5 932.8L882.3 923.7L882.9 910.2L884.5 930.2L885.6 915.4L886.7 917.4L887.7 910L889.3 894.2L890.3 911.4L891.2 910.3L892.6 921.1L893.3 913.2L894.9 912.9L895.8 909.2L897 906.6L898.3 926.2L899.2 905.7L900.6 899.2L901.8 914.8L902.8 894.3L904 906.5L905.5 897.5L906.7 911.9L907.5 920.6L908.9 931.9L909.8 913.3L911.1 911.7L912.4 898.1L913.2 909.1L914.4 910.3L915.7 892.1L916.7 904.4L917.9 903.4L919.2 899.8L920.6 895.4L921.5 909.9L922.7 898.2L923.5 903.4L925.1 896.1L926.2 894.4L927.6 909.2L928.6 897.3L929.2 908.9L930.8 917.8L931.6 904L933.2 914.3L934 896.2L935.8 914L936.6 912.8L937.9 914.6L938.9 907.5L940.2 924.5L941 907.9L942.6 905.5L943.5 915.9L944.9 907.8L945.8 906.7L947.1 902.8L948.2 901.3L949.3 913.9L950.2 909.8L951.9 894.5L952.7 901.8L953.8 895L955.1 908.9L956.6 899.4L957.1 882.1L958.8 905.2L959.8 904.3L960.9 895.3L962 902.3L962.9 905.7L964.5 896.7L965.7 883.9L967 892.7L968 898.5L969.1 878.7L970 899.1L971 894.1L972.9 904.2L973.6 904.4L975.1 903.9L975.7 885.7L977.1 891L978.1 896.7L979.6 903.6L980.8 901.9L982.1 894.2L982.7 907.8L984.5 908.5L985 894.9L986.3 879.5L987.6 895.3L989 899.5L989.9 887L991 897.6L992.5 901.8L993.6 890.1L994.7 882.4L996.1 906.8L997.3 905.8L998 906.3L999.1 895.2L1000.8 897.3L1001.5 895L1002.4 913.6L1004.3 891.2L1005.4 900.3L1006.4 896.9L1007.7 903L1008.3 895L1010 894.9L1010.8 886.7L1012.4 900.4L1013.5 890.9L1014.5 890.7L1015.6 900.5L1016.3 889.7L1017.9 878.9L1019 890.7L1020 912.6L1021.6 895.9L1022.3 901.1L1023.4 884.6L1024.5 893L1026.4 894.6L1027.4 888.3L1028.6 896.1L1029.5 896.7L1030.9 894.6L1032.1 897.4L1033.1 886L1034 886.8L1035 882.1L1036.1 883L1037.3 880.8L1038.7 889.1L1039.5 887.7L1041.3 892.2L1041.9 891.3L1043.5 887.4L1044.6 885.8" fill="none" stroke="none" marker-start="url(#m1)" marker-mid="url(#m1)" marker-end="url(#m1)"/>
<path d="M648.4 1029L653.4 1025.2L658.4 1021.5L663.4 1017.9L668.4 1014.4L673.4 1011L678.5 1007.7L683.5 1004.5L688.5 1001.3L693.5 998.2L698.5 995.2L703.5 992.3L708.6 989.5L713.6 986.7L718.6 984L723.6 981.3L728.6 978.8L733.6 976.3L738.6 973.8L743.7 971.5L748.7 969.1L753.7 966.9L758.7 964.7L763.7 962.5L768.7 960.4L773.8 958.4L778.8 956.4L783.8 954.5L788.8 952.6L793.8 950.8L798.8 949L803.8 947.2L808.9 945.5L813.9 943.9L818.9 942.2L823.9 940.7L828.9 939.1L833.9 937.6L838.9 936.2L844 934.8L849 933.4L854 932L859 930.7L864 929.4L869 928.2L874.1 927L879.1 925.8L884.1 924.6L889.1 923.5L894.1 922.4L899.1 921.3L904.1 920.3L909.2 919.2L914.2 918.3L919.2 917.3L924.2 916.4L929.2 915.4L934.2 914.5L939.2 913.7L944.3 912.8L949.3 912L954.3 911.2L959.3 910.4L964.3 909.6L969.3 908.9L974.4 908.2L979.4 907.4L984.4 906.8L989.4 906.1L994.4 905.4L999.4 904.8L1004.4 904.2L1009.5 903.6L1014.5 903L1019.5 902.4L1024.5 901.8L1029.5 901.3L1034.5 900.7L1039.5 900.2L1044.6 899.7" stroke="#7a3d86" stroke-width="3.9" fill="none" stroke-linecap="square"/>
</g>
<rect x="627.9" y="788.1" width="436.2" height="282.7" fill="none" stroke="#262626" stroke-width="1.3"/>
<path d="M674.1 1070.8v4.5M738.4 1070.8v4.5M802.7 1070.8v4.5M867 1070.8v4.5M931.4 1070.8v4.5M995.7 1070.8v4.5M1060 1070.8v4.5M627.9 1014.1h-4.5M627.9 954.6h-4.5M627.9 895.1h-4.5M627.9 835.6h-4.5" stroke="#262626" stroke-width="1.2"/>
<g font-family="DejaVu Sans" font-size="20.7" text-anchor="middle" fill="#000" stroke="#000" stroke-width="0.45"><text x="674.1" y="1095.9">0</text><text x="738.4" y="1095.9">50</text><text x="802.7" y="1095.9">100</text><text x="867" y="1095.9">150</text><text x="931.4" y="1095.9">200</text><text x="995.7" y="1095.9">250</text><text x="1060" y="1095.9">300</text></g>
<g font-family="DejaVu Sans" font-size="20.7" text-anchor="end" fill="#000" stroke="#000" stroke-width="0.45"><text x="618.6" y="1022.1">80</text><text x="618.6" y="962.6">100</text><text x="618.6" y="903.1">120</text><text x="618.6" y="843.6">140</text></g>
<text x="846" y="1125.6" font-family="DejaVu Sans" font-size="26" text-anchor="middle" fill="#000" stroke="#000" stroke-width="0.4">Time (min)</text>
<text transform="translate(564.7 923) rotate(-90)" font-family="DejaVu Sans" font-size="26" text-anchor="middle" fill="#000" stroke="#000" stroke-width="0.4">Volume (pL)</text>
<rect x="641.4" y="798" width="151.7" height="66.6" rx="3" fill="#fff" fill-opacity="0.8" stroke="#d0d0d0" stroke-width="1.3"/>
<circle cx="671.8" cy="814.4" r="3.85" fill="#2859ab" stroke="#1d417f" stroke-width="1.3"/>
<circle cx="671.8" cy="845.1" r="3.85" fill="#ea1d2b" stroke="#bf1c29" stroke-width="1.3"/>
<g font-family="Liberation Sans" font-size="21.2" letter-spacing="-0.4" fill="#111"><text x="702.4" y="822.8">C2 0.8M</text><text x="702.4" y="853.5">C2 8M</text></g>
<text x="1047.8" y="818.4" font-family="Liberation Sans" font-size="24.3" letter-spacing="-0.6" text-anchor="end" fill="#111">40 µm</text>
<clipPath id="cb3"><rect x="1158.5" y="788.1" width="438" height="282.7"/></clipPath>
<g clip-path="url(#cb3)">
<path d="M1203.9 954.7L1204.8 949.6L1206 949.2L1206.6 942.1L1208.2 959L1208.8 940.9L1210.4 940.3L1211.1 942.8L1212.6 947.6L1214.1 955.8L1214.6 943.2L1216.3 950.4L1216.9 946.1L1218.4 944.6L1219.5 933.4L1220.4 953L1221.4 950.1L1222.5 940.5L1223.7 956.6L1225.4 952.7L1226.2 943.1L1227 948.1L1228.6 950.5L1229.2 962.1L1231.1 947.1L1232 960.7L1233.1 957.3L1234.1 949.6L1235.6 966L1236.7 963.2L1237.2 965.6L1238.4 960.3L1239.9 946.9L1241 959.5L1241.7 958.9L1243.5 966L1244.7 967.6L1245.5 970.5L1246.7 963.1L1247.8 961.7L1248.7 957.9L1250.1 958.3L1250.9 959.7L1252.1 977.3L1253.4 952.6L1254.3 972.4L1255.9 967L1256.5 957.7L1258 967L1258.8 961L1260.2 973.5L1261.1 968.1L1262.8 973.5L1263.3 973.9L1264.4 967L1266.1 967.4L1267.3 970.2L1268.1 965.2L1269.2 974.7L1270.8 974.8L1271.6 969L1272.5 981.3L1273.8 975.6L1275 978.9L1275.9 975.9L1277.3 975.4L1278.7 980L1279.4 991.9L1280.6 970L1281.5 979.5L1283.2 978L1284.4 976.2L1285.3 989.1L1285.9 978.4L1287.2 978.3L1288.6 976.1L1289.8 966.7L1290.7 970.9L1291.9 978.3L1293.1 987.9L1294.1 984.1L1295.2 969.9L1296.9 983.4L1297.3 980.7L1299.1 984.4L1299.8 975.6L1301 981.7L1302.3 974.9L1303.3 984.6L1304.6 987.7L1305.7 984.6L1306.8 988.2L1307.8 989.2L1308.6 992.1L1310 990.1L1311.6 993.3L1312.7 988.7L1313.4 976.4L1314.4 992.8L1315.8 995.8L1316.9 985.2L1318.3 992.6L1319.2 994.6L1320 985.5L1321.4 996.9L1322.3 994.1L1323.4 1000.8L1324.5 993.8L1325.8 997.7L1327.1 988.8L1328.6 995.6L1329.4 984.9L1330.9 994.9L1331.9 1002.1L1332.4 993.6L1333.6 990.6L1335 991.4L1336.2 988.8L1337.5 994.3L1338.7 989.6L1339.7 994.2L1340.5 989.2L1342.2 987.1L1343 1000.2L1344.1 1007.8L1345.5 995.1L1346.7 1005L1347.9 996.9L1348.4 992.3L1350.2 993.5L1350.8 992.6L1352.4 995.5L1353.5 988.3L1354.1 993.6L1355.3 986.7L1356.4 1006.2L1358.1 995.4L1359 997.4L1359.9 1001.6L1361.5 984.2L1362.3 993.6L1363.3 998.4L1364.3 985.2L1365.7 999.6L1366.6 991.5L1367.7 994.1L1368.8 979.2L1370 1012.2L1371.6 1010L1372.4 1015.9L1374 1000L1374.4 1012.3L1375.9 992.1L1376.7 984.7L1378.3 1007.6L1379.6 1006.7L1380.5 1001L1381.5 1000.1L1382.8 994.5L1384.2 999.3L1385.1 985.7L1385.7 994.9L1387.2 992.1L1388.7 1006.8L1389.5 1004.2L1390.4 998L1391.8 996.9L1392.9 992.4L1394 989.5L1395.5 997.3L1396.7 995.1L1397.4 1007.1L1398.9 994.8L1399.9 998.3L1400.7 993.6L1402 1005.2L1402.9 997.3L1404.5 995.9L1405.2 997.6L1406.8 995.3L1407.7 1004.9L1408.7 995.9L1410 999.4L1411.1 1008.6L1412.1 988.5L1413.2 1005.8L1414.6 1015L1415.7 996.1L1416.9 1000.5L1417.8 1001.1L1419 1003.1L1420.5 1002.8L1421.2 1007.8L1422.1 988.2L1423.8 1003.8L1424.3 1005L1425.7 1004L1427.1 1013.1L1428.3 1006.3L1429.5 1008.6L1430.2 1003.5L1431.3 1005.4L1432.7 1011.7L1433.6 1008.8L1434.8 990.2L1436.4 1002.1L1436.9 1005.4L1438.5 1007.3L1439.1 1006.7L1440.3 1007.5L1441.7 1003.7L1442.6 1002.4L1443.9 1014.6L1445.2 1010L1446.2 1010.5L1447.2 998.5L1448.2 1001.7L1449.4 1000L1450.9 998.9L1452.2 1010.4L1452.9 1004.6L1453.9 1006.7L1455.1 991.7L1456.6 1007.2L1457.7 1015.8L1458.5 1016L1459.7 995.3L1461 1013.8L1462.2 1015.7L1463.2 1014L1464.4 1020.9L1465.2 1008L1466.9 997.3L1467.8 991.9L1468.7 1012.5L1469.7 1004.3L1471 1017.7L1472.3 1001.2L1473.7 1018.4L1474.7 1011.8L1475.8 1003.5L1477.2 1012.4L1478.2 1020.7L1479.2 1019.6L1480 1017L1481.7 1007.5L1482.9 1012.3L1483.5 1013.4L1484.7 1021.6L1486 1019.1L1486.8 1012.1L1488 1016.8L1489.2 1026.9L1490.8 1009.4L1491.2 1008.6L1492.5 1010L1494 1025.1L1494.9 1005.3L1496.2 1023.3L1497.1 1021.1L1498.2 1022.4L1499.5 1011.3L1500.8 1021.3L1501.6 1009.4L1503.2 1005.7L1504.2 1011L1505.3 1020.1L1506.6 1020.4L1507.2 1019.4L1508.5 1016L1509.8 1019.6L1510.8 1013.7L1512.2 1010.1L1513.2 1018.4L1514.4 1010.1L1515.8 1020.9L1516.2 1010.3L1517.3 1012.5L1519 1018.2L1519.9 1009.9L1521.1 1009.3L1522.6 1011.2L1523.6 1022.3L1524.2 1011.6L1525.8 1022.1L1526.6 1023.7L1528.3 1015.6L1529 1028.9L1530.4 1017.7L1531.2 1009L1532.4 1016L1533.9 1018.6L1534.7 1019.1L1535.8 1015.4L1536.7 1031.6L1538.2 1016.7L1538.9 1018.6L1540.7 1018.3L1541.3 1026.1L1542.6 1024.2L1543.6 1025.9L1544.6 1027.6L1545.9 1009.9L1547.5 1019.2L1548.5 1025.2L1549.6 1016.6L1550.7 1026.7L1551.4 1023.7L1552.6 1019.1L1554.2 1018L1555.3 1023.4L1556.5 1024.6L1557 1025.8L1558.4 1029.4L1559.5 1016.9L1560.5 1033L1561.5 1027L1563.3 1021.5L1564 1028.1L1565.7 1018L1566.5 1019.6L1567.8 1034L1569 1029.8L1569.6 1026.7L1571.2 1031.8L1572.4 1023.7L1573 1027.1L1574.2 1035.6L1575.7 1029.8L1576.6 1032.8" fill="none" stroke="none" marker-start="url(#m0)" marker-mid="url(#m0)" marker-end="url(#m0)"/>
<path d="M1177.6 900.9L1182.6 906.1L1187.7 911.1L1192.7 915.9L1197.8 920.4L1202.8 924.8L1207.9 929.1L1212.9 933.1L1218 937L1223 940.7L1228.1 944.2L1233.2 947.6L1238.2 950.9L1243.3 954L1248.3 957L1253.4 959.9L1258.4 962.7L1263.5 965.3L1268.5 967.9L1273.6 970.3L1278.6 972.6L1283.7 974.8L1288.7 977L1293.8 979L1298.8 981L1303.9 982.9L1308.9 984.7L1314 986.4L1319 988.1L1324.1 989.7L1329.1 991.2L1334.2 992.7L1339.2 994.1L1344.3 995.4L1349.3 996.7L1354.4 997.9L1359.4 999.1L1364.5 1000.2L1369.5 1001.3L1374.6 1002.4L1379.6 1003.4L1384.7 1004.3L1389.7 1005.3L1394.8 1006.1L1399.9 1007L1404.9 1007.8L1410 1008.6L1415 1009.3L1420.1 1010L1425.1 1010.7L1430.2 1011.3L1435.2 1012L1440.3 1012.6L1445.3 1013.2L1450.4 1013.7L1455.4 1014.2L1460.5 1014.7L1465.5 1015.2L1470.6 1015.7L1475.6 1016.1L1480.7 1016.6L1485.7 1017L1490.8 1017.4L1495.8 1017.8L1500.9 1018.1L1505.9 1018.5L1511 1018.8L1516 1019.1L1521.1 1019.4L1526.1 1019.7L1531.2 1020L1536.2 1020.3L1541.3 1020.5L1546.3 1020.8L1551.4 1021L1556.4 1021.2L1561.5 1021.4L1566.5 1021.7L1571.6 1021.9L1576.7 1022" stroke="#17a2a3" stroke-width="3.9" fill="none" stroke-linecap="square"/>
<path d="M1203.8 968.6L1204.3 968.8L1205.6 958.1L1207 955.2L1208.1 964.8L1209.2 961.5L1210.3 961.1L1211.3 971.4L1212.9 946.2L1213.8 957.1L1214.5 941.4L1216 960.5L1217 944.6L1218 952.6L1219.4 946.2L1220.4 932.8L1221.7 945.5L1222.5 937L1223.6 960.3L1225.3 960.9L1225.9 940.2L1227.1 944.9L1228.4 930.5L1229.4 950.6L1231 929L1231.9 945.8L1233.1 944.7L1234 946.7L1235.5 945.3L1236.3 933.9L1237.2 938.7L1239 928.1L1239.9 919.5L1240.8 943.7L1241.7 934.6L1242.9 936.1L1244.2 943.7L1245.3 922.5L1246.4 923.8L1247.5 925.3L1248.6 940.5L1249.8 927.1L1251.3 915.1L1252.3 927.6L1253.6 919.4L1254.8 918.4L1255.9 917.2L1256.9 926.6L1258.3 932.1L1258.8 926.9L1260.3 917.5L1261.3 930.2L1262.3 922.6L1264 912.4L1264.8 927.5L1266.1 924.2L1266.9 916.4L1268 924.2L1269.2 931.4L1270.1 926.7L1271.8 932L1272.8 929.9L1274 912.7L1275.1 912.3L1275.8 916.7L1277.3 924.5L1278.6 919.4L1279.4 927.9L1280.9 924L1282 908L1282.7 932.9L1284.2 932.6L1284.9 918.8L1286.3 916.1L1287.4 926.7L1288.7 912.3L1289.9 927.8L1290.8 908.3L1291.6 937.1L1293.3 921.2L1294.5 916.1L1295.3 907.9L1296.1 903.3L1297.3 913.2L1298.4 924.5L1299.7 916.3L1300.8 918.8L1302.1 911.6L1303.3 913.7L1304.1 906.8L1305.6 903.4L1306.6 908.1L1307.8 910.3L1308.7 901.4L1310.1 905.6L1311.1 895.1L1312.1 905.2L1313.4 912.4L1314.5 903.6L1315.8 900.6L1316.9 920.6L1318.3 912.6L1319 897L1320.1 913.3L1321.5 905.7L1322.6 900.7L1323.4 895.3L1324.5 889.3L1325.8 898.4L1326.8 910L1328.5 906L1329.2 914.5L1330.5 901.4L1331.6 901.8L1332.6 891L1333.8 891L1334.9 898.2L1336.3 897.1L1337.5 901.6L1338.2 897.3L1339.2 878L1340.7 892.2L1341.7 893.4L1342.8 885L1344.1 889.5L1345 898.4L1346.5 882.5L1347.2 896.7L1348.5 897.6L1350.1 906.8L1351.1 879.7L1352.1 893L1353.4 884.6L1354.3 899.9L1355.3 888.1L1356.4 899.4L1357.5 890.6L1359.2 888.7L1359.9 891.2L1361.2 888.2L1362.4 911.6L1363.7 886.6L1364.4 898.4L1365.5 869.8L1366.7 879.5L1368.2 878.5L1369.4 884.5L1370.5 878.4L1371.2 884.5L1372.4 903L1374 886.1L1374.5 873.8L1375.7 891.3L1377.2 890.7L1377.8 881.4L1379.6 891.7L1380.2 895.6L1381.2 901.4L1382.9 891.3L1383.6 896L1384.7 886.5L1386.2 882.6L1387.3 881.5L1388.1 873.5L1389.5 870L1390.7 887.3L1392.1 874.5L1392.6 881.4L1394.3 882.6L1394.8 865.3L1396.6 881.5L1397.8 889.5L1398.4 882.3L1399.6 879.1L1400.8 880.8L1401.6 876.9L1403.5 870.6L1403.9 875.1L1405.6 877.1L1406.9 893.5L1407.6 878.9L1408.7 878.2L1409.6 880L1410.9 894.9L1411.9 887.1L1413.4 903.9L1414.6 882.9L1415.6 889.3L1417 869.4L1417.6 890.5L1419.2 882.3L1419.8 884.7L1421.5 865.1L1422.1 874.7L1423.2 878.5L1424.5 869.8L1425.6 887.7L1427.1 868.9L1428.4 862.1L1428.9 888.4L1430.4 882.5L1431.5 886.2L1432.5 878.2L1433.7 877.1L1434.9 885.1L1436.3 885.5L1437 880.3L1438.3 873.3L1439.1 869.3L1440.4 863.2L1441.3 881.5L1442.6 886L1443.9 876.4L1445.1 885L1446.1 867.6L1447.1 875.2L1448.2 864.4L1449.5 866L1450.5 875.4L1451.6 874.7L1453 878.5L1454.3 888.2L1455.2 882.4L1456.2 874.7L1457.3 883.5L1458.6 884.2L1459.6 863.2L1460.6 877.1L1462.2 879.1L1463.3 879.9L1464.1 878L1465.8 875.7L1466.3 869.4L1467.6 889.1L1468.6 880.3L1470.1 863.3L1471.5 869.1L1472.3 860.7L1473.4 885.3L1474.4 875.6L1475.4 883.7L1477 878L1478.1 867.6L1479.3 859.5L1480.5 845.4L1481.2 869.3L1482.3 868.2L1483.5 875.7L1484.9 859.5L1485.7 877.4L1487.2 857.7L1488.3 847.9L1489 849.8L1490.3 866.6L1491.9 874.8L1492.5 852.5L1493.5 862.4L1495.2 870.6L1496.5 885.1L1497.3 862.2L1498.1 855L1499.6 876.5L1500.6 860.4L1501.6 868.7L1502.9 869.2L1504.2 869.4L1505.1 878.8L1506.7 870.6L1507.3 854.1L1508.9 876.7L1510.1 877.5L1511.2 878.8L1511.8 854.4L1513 868.3L1514.1 861.9L1515.3 884L1516.8 883.7L1517.6 860.6L1519 888.6L1520.1 873.5L1521.2 873.4L1522.5 872.4L1523.5 858L1524.1 872.8L1525.2 862.8L1526.6 861.9L1527.7 867.6L1528.9 876.1L1530 873.9L1531.3 869.2L1532.8 866.7L1533.8 886.4L1534.8 865L1536 878.1L1536.8 860.8L1538 858.7L1539.2 875.9L1540.1 877.1L1541.3 868.8L1542.8 868L1543.7 864.3L1545 866.3L1545.7 868.2L1547.4 880.8L1548.1 864.1L1549.6 878.3L1550.7 863L1551.7 872.5L1552.8 878.5L1554.2 874.5L1555.1 871.7L1556.3 877.2L1557.7 860.2L1558.6 865.1L1559.8 875L1560.7 879.9L1561.5 864.1L1562.8 876.6L1563.9 875.3L1565 881.6L1566.5 888.8L1567.4 869.1L1568.5 873.4L1570.1 884.4L1571.4 879.3L1571.9 871.9L1573.3 868.5L1574.7 879.4L1575.4 878.5L1576.3 864.7" fill="none" stroke="none" marker-start="url(#m1)" marker-mid="url(#m1)" marker-end="url(#m1)"/>
<path d="M1177.6 988.8L1182.6 983.6L1187.7 978.7L1192.7 973.9L1197.8 969.4L1202.8 965L1207.9 960.9L1212.9 956.8L1218 953L1223 949.3L1228.1 945.8L1233.2 942.4L1238.2 939.1L1243.3 936L1248.3 933L1253.4 930.1L1258.4 927.3L1263.5 924.7L1268.5 922.1L1273.6 919.7L1278.6 917.4L1283.7 915.1L1288.7 913L1293.8 910.9L1298.8 908.9L1303.9 907L1308.9 905.2L1314 903.4L1319 901.7L1324.1 900.1L1329.1 898.6L1334.2 897.1L1339.2 895.7L1344.3 894.3L1349.3 893L1354.4 891.7L1359.4 890.5L1364.5 889.4L1369.5 888.3L1374.6 887.2L1379.6 886.2L1384.7 885.2L1389.7 884.3L1394.8 883.3L1399.9 882.5L1404.9 881.7L1410 880.9L1415 880.1L1420.1 879.4L1425.1 878.7L1430.2 878L1435.2 877.3L1440.3 876.7L1445.3 876.1L1450.4 875.5L1455.4 875L1460.5 874.5L1465.5 874L1470.6 873.5L1475.6 873L1480.7 872.6L1485.7 872.1L1490.8 871.7L1495.8 871.3L1500.9 870.9L1505.9 870.6L1511 870.2L1516 869.9L1521.1 869.6L1526.1 869.3L1531.2 869L1536.2 868.7L1541.3 868.4L1546.3 868.2L1551.4 867.9L1556.4 867.7L1561.5 867.4L1566.5 867.2L1571.6 867L1576.7 866.8" stroke="#7a3d86" stroke-width="3.9" fill="none" stroke-linecap="square"/>
</g>
<rect x="1158.5" y="788.1" width="438" height="282.7" fill="none" stroke="#262626" stroke-width="1.3"/>
<path d="M1203.5 1070.8v4.5M1268.3 1070.8v4.5M1333.1 1070.8v4.5M1397.8 1070.8v4.5M1462.6 1070.8v4.5M1527.4 1070.8v4.5M1592.2 1070.8v4.5M1158.5 1063.6h-4.5M1158.5 1003h-4.5M1158.5 942.4h-4.5M1158.5 881.8h-4.5M1158.5 821.2h-4.5" stroke="#262626" stroke-width="1.2"/>
<g font-family="DejaVu Sans" font-size="20.7" text-anchor="middle" fill="#000" stroke="#000" stroke-width="0.45"><text x="1203.5" y="1095.9">0</text><text x="1268.3" y="1095.9">50</text><text x="1333.1" y="1095.9">100</text><text x="1397.8" y="1095.9">150</text><text x="1462.6" y="1095.9">200</text><text x="1527.4" y="1095.9">250</text><text x="1592.2" y="1095.9">300</text></g>
<g font-family="DejaVu Sans" font-size="20.7" text-anchor="end" fill="#000" stroke="#000" stroke-width="0.45"><text x="1149.2" y="1071.6">60</text><text x="1149.2" y="1011">80</text><text x="1149.2" y="950.4">100</text><text x="1149.2" y="889.8">120</text><text x="1149.2" y="829.2">140</text></g>
<text x="1377.5" y="1125.6" font-family="DejaVu Sans" font-size="26" text-anchor="middle" fill="#000" stroke="#000" stroke-width="0.4">Time (min)</text>
<text transform="translate(1097.3 923) rotate(-90)" font-family="DejaVu Sans" font-size="26" text-anchor="middle" fill="#000" stroke="#000" stroke-width="0.4">Volume (pL)</text>
<rect x="1170.6" y="798.9" width="151.7" height="66.6" rx="3" fill="#fff" fill-opacity="0.8" stroke="#d0d0d0" stroke-width="1.3"/>
<circle cx="1201" cy="815.3" r="3.85" fill="#2859ab" stroke="#1d417f" stroke-width="1.3"/>
<circle cx="1201" cy="846" r="3.85" fill="#ea1d2b" stroke="#bf1c29" stroke-width="1.3"/>
<g font-family="Liberation Sans" font-size="21.2" letter-spacing="-0.4" fill="#111"><text x="1231.6" y="823.7">C2 0.8M</text><text x="1231.6" y="854.4">C2 8M</text></g>
<text x="1581.3" y="818.4" font-family="Liberation Sans" font-size="24.3" letter-spacing="-0.6" text-anchor="end" fill="#111">30 µm</text>
<clipPath id="cb4"><rect x="1690.9" y="788.7" width="436.5" height="281.8"/></clipPath>
<g clip-path="url(#cb4)">
<path d="M1748.6 956.6L1749.7 954.1L1751.7 940.5L1753 955.5L1754.5 951.3L1756.2 946.8L1757.3 954.3L1758.7 956.7L1760 945L1761.2 952.6L1763.6 948.2L1765 948.4L1766.8 972.3L1767.6 959.9L1769.6 963.1L1770.8 959.7L1772.4 970.2L1773.4 971.4L1775.3 985.2L1776.1 966.1L1778.3 977.8L1779.4 978.1L1781.5 982.2L1782.7 980.3L1784.1 978.5L1785.7 968.9L1787.2 990.6L1788.7 968.1L1789.5 991.9L1791.3 979.4L1793.2 984.3L1794.3 992.3L1796 977.4L1796.9 989.3L1799.3 962.9L1800.1 974.7L1802.4 975.1L1803.2 986.8L1804.6 980.4L1806.4 973.7L1808.2 976.2L1809.3 975.1L1811.2 962.9L1812.9 969L1814.1 975.4L1814.9 962.5L1817.1 960.7L1817.8 978.4L1820.3 980.6L1821.3 961.7L1822.5 972.8L1823.9 952.9L1825.5 980.4L1827.5 975.8L1828.2 976.4L1829.8 965.3L1831.5 956.7L1833.1 985.2L1835 975.2L1835.6 977.1L1837.1 982.2L1839.4 979.7L1840.3 969.4L1842.1 981.8L1843 994.1L1844.8 984.7L1846.6 987.5L1847.9 992.1L1849.8 992.1L1850.5 1002.8L1852.3 989.6L1854.3 988.7L1855.6 999.2L1856.7 1002.8L1858.2 1002.2L1860.5 978.9L1861.6 994.7L1863.1 994.9L1864 979.4L1865.4 1000.9L1867 1000.7L1869.4 996.1L1869.8 992.9L1871.8 988.1L1872.9 1002.8L1874.3 996.2L1875.8 1000.5L1877.5 992.3L1878.9 992.7L1880.5 999.4L1882.5 1005.7L1884 992.4L1885.4 989L1886.1 1010.2L1887.8 1003.8L1889.6 993.7L1891.7 1013.6L1893.1 991.8L1894.6 1013.1L1896 997.2L1897 1012.9L1898.5 1006.5L1900.5 1000L1901.7 1008L1903.5 996.2L1904.4 1011.4L1905.5 1008L1907.5 1009.5L1908.4 1004.7L1910.9 996.7L1912.4 993.6L1913.2 992L1914.7 996.4L1916.2 979.5L1918.3 1004.1L1919.1 988.6L1920.5 991.2L1921.8 986.7L1924.4 1004.2L1925.7 1003.1L1926.2 989.7L1928 997L1930.3 1014.1L1931.6 1009.1L1932.6 996.9L1934.5 1017.2L1936 1005.8L1937.4 1008.5L1938.4 1008.5L1940.4 1013.9L1941.3 1002.7L1943.7 1007.2L1945.1 1002.5L1946.6 1012.3L1948 1007L1949 1016.6L1951.1 1022.1L1952 1012L1954.1 998.4L1954.9 1009.9L1956 1006.1L1958.2 1002.9L1959.4 1018.3L1961 1014.6L1962 1011L1964.3 1017L1964.9 1009.5L1967.5 1017.2L1968.4 1025.7L1969.9 1020L1971.4 1019.5L1972.4 1002.7L1974.5 1037.3L1976.3 1018.3L1977.1 1009L1978.4 1028.1L1980.2 1018.3L1982.3 1018.3L1983.3 1005.9L1984.5 1012.6L1986.2 1027L1987.4 1026.2L1989.4 1025.9L1991.2 1035.3L1992.3 1017.2L1994 1019.8L1995.3 1038.7L1996.3 1022L1998.7 1033.3L1999.4 1015L2001 1029.8L2002.2 1029.6L2004 1015.4L2006.1 1026.3L2007 1016.2L2008.5 1014.5L2009.8 1032.9L2011.4 1036L2012.8 1034.6L2014.9 1038.5L2015.7 1033.3L2017.7 1022.9L2018.4 1031.7L2020.5 1031.3L2022.4 1029.1L2023.1 1027.8L2025 1030.4L2026.4 1029.9L2027.5 1020.6L2029.7 1018.2L2030.4 1031.1L2032.1 1035.2L2034.1 1049.1L2035.7 1027.7L2037 1016.6L2038.6 1027.7L2040.3 1023.4L2041.1 1024.9L2042.5 1034.6L2044.4 1032.5L2045.9 1052.4L2047.7 1014.6L2048.7 1025.7L2050.1 1024.6L2052.2 1034.5L2053.1 1032.2L2055.2 1033.4L2055.9 1042.9L2057.5 1030.7L2059.5 1042.8L2061.1 1019.5L2061.8 1042.5L2064.1 1031.8L2064.9 1047L2066.2 1055L2067.8 1052.8L2070 1033.9L2071.4 1039.8L2072.7 1015.7L2074.4 1045.4L2074.9 1038.2L2076.7 1024.6L2078 1043.2L2080.1 1039L2081.8 1045.3L2083 1041.6L2083.9 1038.7L2085.6 1049.5L2086.9 1045.4L2088.9 1032L2090.5 1043.1L2091.6 1051.4L2093.4 1048.8L2094.3 1045.1L2096.2 1040.7L2097.8 1042.3L2099.5 1028.3L2101.2 1042.2L2102.5 1046L2103.3 1036.7" fill="none" stroke="none" marker-start="url(#m0)" marker-mid="url(#m0)" marker-end="url(#m0)"/>
<path d="M1710 907.9L1715 912.6L1720.1 917.2L1725.1 921.6L1730.1 925.9L1735.1 930L1740.2 934L1745.2 937.8L1750.2 941.5L1755.3 945.1L1760.3 948.6L1765.3 951.9L1770.4 955.1L1775.4 958.2L1780.4 961.2L1785.5 964.1L1790.5 966.9L1795.5 969.5L1800.6 972.1L1805.6 974.6L1810.6 977L1815.7 979.4L1820.7 981.6L1825.7 983.8L1830.8 985.9L1835.8 987.9L1840.8 989.8L1845.9 991.7L1850.9 993.5L1855.9 995.3L1861 996.9L1866 998.6L1871 1000.1L1876.1 1001.7L1881.1 1003.1L1886.1 1004.5L1891.2 1005.9L1896.2 1007.2L1901.2 1008.5L1906.3 1009.7L1911.3 1010.9L1916.3 1012L1921.4 1013.1L1926.4 1014.2L1931.4 1015.2L1936.5 1016.2L1941.5 1017.1L1946.5 1018.1L1951.6 1018.9L1956.6 1019.8L1961.6 1020.6L1966.7 1021.4L1971.7 1022.2L1976.7 1022.9L1981.7 1023.6L1986.8 1024.3L1991.8 1025L1996.8 1025.6L2001.9 1026.3L2006.9 1026.9L2011.9 1027.4L2017 1028L2022 1028.5L2027 1029L2032.1 1029.5L2037.1 1030L2042.1 1030.5L2047.2 1030.9L2052.2 1031.4L2057.2 1031.8L2062.3 1032.2L2067.3 1032.6L2072.3 1033L2077.4 1033.3L2082.4 1033.7L2087.4 1034L2092.5 1034.3L2097.5 1034.7L2102.5 1035L2107.6 1035.3" stroke="#17a2a3" stroke-width="3.9" fill="none" stroke-linecap="square"/>
<path d="M1748.8 966.5L1749.5 960.4L1751.2 948.8L1752.5 930.2L1754.7 962.8L1755.8 961.7L1757.6 950L1758.3 946L1760.8 958.1L1762.3 957L1762.7 953.8L1764.9 945L1766.4 942.1L1767.3 945.8L1769.6 951.3L1770.7 943L1771.9 945.3L1773.8 935.3L1774.7 935.7L1776.2 941.9L1778.3 944L1779.7 933.3L1780.9 915.5L1783.1 947.9L1783.8 934.9L1786 929.9L1786.8 926.9L1788.9 931L1789.5 917.7L1791.8 922.9L1793.4 911.1L1794.5 931.5L1795.8 924.8L1797.3 898.5L1798.8 910.3L1800.2 927.5L1801.7 922.9L1803.5 922.7L1804.8 927.5L1805.8 909.9L1808.2 917.3L1809.9 929.2L1810.7 915.9L1812 890.8L1813.7 912.4L1814.9 901.2L1817.2 923.9L1817.8 926.6L1820.1 913L1821 903.9L1822.3 895.3L1824.5 903.9L1826 907.4L1826.8 930.9L1828.8 909.3L1830.6 939.4L1832 919.3L1833.1 915.1L1834.5 913.2L1836.1 915.4L1837.7 914.2L1839.1 909.8L1840.9 926.7L1842 924L1843.8 930.8L1845.3 921.5L1846 901.8L1848 917.5L1850 920.2L1851.4 917.1L1852.4 896.1L1853.7 893.4L1855 904.5L1857.1 922.1L1858.9 897.5L1860.1 910.5L1861.4 903L1862.8 883.5L1864.6 896L1865.4 915.6L1867.5 889.7L1868.7 902.6L1870.1 905.1L1872.1 897.7L1873 893.4L1874.8 898.2L1876.3 900.9L1878.3 904.9L1879.6 894.8L1881 881.8L1881.7 905.1L1883.7 893.5L1884.9 891.2L1886.8 884.6L1888 892.8L1889.5 884.2L1891.1 900.4L1892.1 884.8L1894.2 898.9L1896.1 896.8L1897.6 881.6L1898.3 886.6L1899.5 892.7L1901.3 867.8L1903 882.7L1904.1 895.5L1905.8 873.2L1907.5 888.9L1908.6 894L1910.4 887.9L1911.7 880.7L1913 890.4L1914.7 887.8L1916.7 879.6L1917.4 896.6L1919 892.9L1920.8 884.4L1921.9 899.5L1923.7 897.7L1925.2 898.2L1926.9 891.1L1928.2 873.2L1930.2 894L1931.3 895.1L1932.5 870.4L1934.3 891.3L1935.9 891.5L1936.8 894.2L1938.7 886L1940.5 904.3L1941.6 910.1L1943.1 899.5L1944.9 889.6L1945.8 898.2L1947.6 904.2L1949.6 895.7L1950.9 886.6L1952.5 901.8L1953.3 907.8L1955.5 911.8L1956.1 899.2L1957.8 907.2L1959 897.7L1961.5 895.3L1962 881.6L1964.4 888.1L1965 896L1966.9 904.2L1968.6 887L1970.2 886.7L1971.7 884.9L1973.4 900.1L1974.4 862.9L1975.6 881.1L1977 883.6L1979.2 872.6L1979.8 887.8L1981.3 878.2L1983.1 886.6L1984.4 869L1985.9 875.9L1988.2 870.2L1989.7 874.9L1990.7 866.9L1991.8 885.2L1993.5 857L1995.4 889.9L1997.1 877.7L1998 880.9L2000 867.9L2000.9 874.8L2002.8 865L2004.6 879.8L2005.4 873.3L2007 877L2009 872L2009.7 870.3L2011.1 877.5L2013 874.4L2014.5 864.9L2016.2 887L2017.8 872.1L2018.7 892L2020.2 879.1L2021.9 874.4L2023 888.1L2024.5 892.7L2026.4 882.4L2027.7 875L2029.1 879.4L2030.5 877.3L2032.3 879.1L2034.2 876.7L2035.5 874.9L2036.5 883.1L2037.9 884.3L2040.3 889.8L2041.4 858.5L2042.5 879.3L2044.4 870.4L2046 872.2L2047.3 863.1L2049 869.7L2050 857.4L2052.2 880.8L2053 871.8L2054.3 899.1L2056.6 877.4L2057.5 888.8L2059 888.7L2060.7 886.9L2062.5 889.8L2063.4 876.5L2065.2 872.2L2066.5 865L2068 873.4L2069.6 872.9L2071.2 864.4L2072.4 860.2L2073.4 881.5L2075.5 885.5L2077.4 867.9L2078 878.4L2079.6 889.5L2081.6 888.2L2083.5 878.7L2084.6 848.4L2085.9 865.2L2087.2 886.2L2088.7 871.7L2089.9 856.3L2091.4 876.4L2093.7 879.3L2095.1 874.2L2096.4 872.1L2097.8 868.9L2099.7 885.5L2101.1 870.5L2102.4 877L2103.7 861.1" fill="none" stroke="none" marker-start="url(#m1)" marker-mid="url(#m1)" marker-end="url(#m1)"/>
<path d="M1710 996.6L1715 991.7L1720.1 987.1L1725.1 982.6L1730.1 978.2L1735.1 974.1L1740.2 970L1745.2 966.1L1750.2 962.4L1755.3 958.8L1760.3 955.3L1765.3 951.9L1770.4 948.7L1775.4 945.5L1780.4 942.5L1785.5 939.6L1790.5 936.8L1795.5 934.1L1800.6 931.5L1805.6 929L1810.6 926.5L1815.7 924.2L1820.7 921.9L1825.7 919.8L1830.8 917.7L1835.8 915.6L1840.8 913.7L1845.9 911.8L1850.9 910L1855.9 908.2L1861 906.5L1866 904.9L1871 903.3L1876.1 901.8L1881.1 900.4L1886.1 898.9L1891.2 897.6L1896.2 896.3L1901.2 895L1906.3 893.8L1911.3 892.6L1916.3 891.5L1921.4 890.4L1926.4 889.3L1931.4 888.3L1936.5 887.3L1941.5 886.4L1946.5 885.5L1951.6 884.6L1956.6 883.7L1961.6 882.9L1966.7 882.1L1971.7 881.4L1976.7 880.6L1981.7 879.9L1986.8 879.2L1991.8 878.6L1996.8 877.9L2001.9 877.3L2006.9 876.7L2011.9 876.2L2017 875.6L2022 875.1L2027 874.6L2032.1 874.1L2037.1 873.6L2042.1 873.1L2047.2 872.7L2052.2 872.3L2057.2 871.9L2062.3 871.5L2067.3 871.1L2072.3 870.7L2077.4 870.4L2082.4 870L2087.4 869.7L2092.5 869.4L2097.5 869.1L2102.5 868.8L2107.6 868.5" stroke="#7a3d86" stroke-width="3.9" fill="none" stroke-linecap="square"/>
</g>
<rect x="1690.9" y="788.7" width="436.5" height="281.8" fill="none" stroke="#262626" stroke-width="1.3"/>
<path d="M1748.4 1070.5v4.5M1844.4 1070.5v4.5M1940.5 1070.5v4.5M2036.5 1070.5v4.5M1690.9 1050.5h-4.5M1690.9 1014.7h-4.5M1690.9 978.9h-4.5M1690.9 943.1h-4.5M1690.9 907.3h-4.5M1690.9 871.5h-4.5M1690.9 835.7h-4.5M1690.9 799.9h-4.5" stroke="#262626" stroke-width="1.2"/>
<g font-family="DejaVu Sans" font-size="20.7" text-anchor="middle" fill="#000" stroke="#000" stroke-width="0.45"><text x="1748.4" y="1095.6">0</text><text x="1844.4" y="1095.6">50</text><text x="1940.5" y="1095.6">100</text><text x="2036.5" y="1095.6">150</text></g>
<g font-family="DejaVu Sans" font-size="20.7" text-anchor="end" fill="#000" stroke="#000" stroke-width="0.45"><text x="1681.6" y="1058.5">70</text><text x="1681.6" y="1022.7">80</text><text x="1681.6" y="986.9">90</text><text x="1681.6" y="951.1">100</text><text x="1681.6" y="915.3">110</text><text x="1681.6" y="879.5">120</text><text x="1681.6" y="843.7">130</text><text x="1681.6" y="807.9">140</text></g>
<text x="1909.2" y="1125.3" font-family="DejaVu Sans" font-size="26" text-anchor="middle" fill="#000" stroke="#000" stroke-width="0.4">Time (min)</text>
<text transform="translate(1626.7 922.6) rotate(-90)" font-family="DejaVu Sans" font-size="26" text-anchor="middle" fill="#000" stroke="#000" stroke-width="0.4">Volume (pL)</text>
<rect x="1701.6" y="798.6" width="151.1" height="66.5" rx="3" fill="#fff" fill-opacity="0.8" stroke="#d0d0d0" stroke-width="1.3"/>
<circle cx="1732" cy="815" r="3.85" fill="#2859ab" stroke="#1d417f" stroke-width="1.3"/>
<circle cx="1732" cy="845.7" r="3.85" fill="#ea1d2b" stroke="#bf1c29" stroke-width="1.3"/>
<g font-family="Liberation Sans" font-size="21.2" letter-spacing="-0.4" fill="#111"><text x="1762.6" y="823.4">C2 0.8M</text><text x="1762.6" y="854.1">C2 8M</text></g>
<text x="2112.9" y="818.5" font-family="Liberation Sans" font-size="24.3" letter-spacing="-0.6" text-anchor="end" fill="#111">20 µm</text>
<clipPath id="cb5"><rect x="95.5" y="1142.5" width="436.6" height="281.4"/></clipPath>
<g clip-path="url(#cb5)">
<path d="M159.4 1301.6L160.1 1308.9L161.8 1304.8L163.3 1299.1L164.9 1304.4L167.2 1317.7L168.9 1315.7L169.6 1309.8L171.9 1301.6L173.5 1306.7L174.6 1307.8L175.8 1314.7L178.1 1308.8L178.8 1320L181 1309.5L182.4 1306.1L184.4 1315.9L185 1308L187.3 1317.4L188.5 1314.2L189.6 1316.1L191.1 1314.7L193.1 1308.3L194.7 1311.5L195.7 1319.5L197.1 1329.5L199.2 1313.5L201.1 1314.8L202.9 1319.2L204 1322.6L206 1313.3L207.4 1329.4L208.1 1324L210.5 1327.7L211.9 1320.7L212.9 1325L215.1 1314.2L216.7 1324.9L217.5 1326.4L219.3 1323.8L220.3 1330L222.5 1332.5L223.6 1324.9L225.8 1329.4L226.6 1323.6L228.3 1328.2L229.5 1329.3L231.1 1330.6L233.2 1332.3L234.7 1329.9L235.8 1334.7L237.5 1342.5L238.7 1333.3L240.8 1336.1L242.6 1340.5L243.9 1330.5L246 1336L247.2 1342.9L248.3 1335L250.6 1337.6L251.7 1341.3L253.6 1332.2L254.9 1338.3L256.3 1331.2L257.8 1338.3L258.8 1329L260.9 1332.7L262.7 1334.9L264.7 1339.7L265.5 1332.8L267.1 1335.2L268.7 1339.1L270.1 1335L271.9 1342.5L272.8 1344L274.9 1338.9L276.6 1339.1L278.3 1337.6L279.4 1338.6L280.8 1333.9L282 1345.6L284.5 1337.3L285.1 1338.2L287.2 1332.4L288.5 1337.4L290.8 1337.7L292.4 1331.9L293.2 1336.5L295.5 1338.6L296.3 1343.5L298.4 1341.9L300 1349.5L301.3 1346.1L302.3 1339.2L303.7 1351.5L305.7 1343.6L306.8 1343.3L309.3 1341.8L310 1352.1L311.3 1353.5L313.5 1338.7L314.9 1343.1L317 1342.1L317.7 1336.1L319.5 1342.2L321.4 1352.1L323.3 1346.4L324 1341L326.1 1347.2L326.9 1345.7L329.2 1347.7L330.2 1339.2L331.7 1341.8L333.2 1354.9L334.9 1339L336.4 1351.4L338.3 1339.6L339.8 1355.9L341.6 1345.3L342.5 1352.8L344.9 1350.3L345.9 1344.7L347.7 1352.9L349.2 1348.7L350.1 1349.5L351.6 1345.9L353.6 1344.9L355.2 1342.3L356.4 1350.4L357.8 1350L359.8 1355.1L361.5 1355.2L362.5 1357L364 1351.9L366.5 1350.7L367.8 1351.8L368.4 1349.2L371.2 1358.2L371.5 1344.3L373.4 1350.9L375.8 1347.1L376.2 1350.4L378.8 1357L379.4 1354.9L381 1369.1L383.3 1353L385 1355.2L386 1349.5L387 1363.1L388.9 1356L390 1357.3L392 1361.7L393.9 1362.8L395 1361.2L397 1351.5L398.9 1351.8L399.9 1363.2L401.1 1356.3L403.5 1352.5L405.1 1353.2L405.6 1362.4L408.1 1358.4L408.9 1362.9L410.2 1352.5L411.8 1345.1L414.1 1358.2L414.8 1368.4L417.2 1355.2L418.1 1352.4L419.9 1352.8L421.1 1358.7L423.3 1357L424.6 1360L426 1357.3L428.1 1356.3L429.2 1363.7L431 1363L432.7 1361.4L434 1361.4L436 1360.6L437 1355.3L438.1 1366.7L440.1 1357.2L441.3 1363.2L442.6 1375.5L445 1365.4L445.9 1364.7L447.5 1360.8L449.9 1361.7L450.7 1364.2L452.3 1368.3L454.5 1360.9L455.9 1367.9L457.5 1370.3L458.5 1367.3L459.7 1367.7L461.1 1365.3L462.7 1365.2L464.3 1365L466 1359.6L468.2 1358.7L469 1360.7L470.8 1364L472.4 1364.8L473.8 1363.4L475.1 1362.8L476.8 1358.6L479.1 1364L480.8 1368L481.6 1366.2L483.2 1354.1L484.6 1366.1L486.2 1368.4L488.1 1363.6L489.7 1354.8L490.7 1361.5L492.1 1360.7L494.3 1369.3L495.5 1369.9L497.7 1362.6L498.6 1364.8L499.6 1360.6L502.1 1367.9L504 1357.8L504.8 1356.5L507 1370.1L507.5 1362L509.1 1365.4L510.8 1358.3L512.5 1364.5" fill="none" stroke="none" marker-start="url(#m0)" marker-mid="url(#m0)" marker-end="url(#m0)"/>
<path d="M115.7 1250.4L120.8 1256.5L125.8 1262.3L130.8 1267.8L135.8 1273L140.9 1277.9L145.9 1282.6L150.9 1287L155.9 1291.1L161 1295.1L166 1298.8L171 1302.3L176 1305.6L181 1308.8L186.1 1311.7L191.1 1314.6L196.1 1317.2L201.1 1319.7L206.2 1322.1L211.2 1324.4L216.2 1326.5L221.2 1328.5L226.3 1330.4L231.3 1332.2L236.3 1333.9L241.3 1335.6L246.4 1337.1L251.4 1338.5L256.4 1339.9L261.4 1341.2L266.4 1342.4L271.5 1343.6L276.5 1344.7L281.5 1345.7L286.5 1346.7L291.6 1347.6L296.6 1348.5L301.6 1349.3L306.6 1350.1L311.7 1350.8L316.7 1351.5L321.7 1352.2L326.7 1352.8L331.7 1353.4L336.8 1354L341.8 1354.5L346.8 1355L351.8 1355.5L356.9 1355.9L361.9 1356.3L366.9 1356.7L371.9 1357.1L377 1357.5L382 1357.8L387 1358.1L392 1358.4L397.1 1358.7L402.1 1359L407.1 1359.3L412.1 1359.5L417.1 1359.7L422.2 1360L427.2 1360.2L432.2 1360.4L437.2 1360.5L442.3 1360.7L447.3 1360.9L452.3 1361L457.3 1361.2L462.4 1361.3L467.4 1361.5L472.4 1361.6L477.4 1361.7L482.5 1361.8L487.5 1361.9L492.5 1362L497.5 1362.1L502.5 1362.2L507.6 1362.3L512.6 1362.4" stroke="#17a2a3" stroke-width="3.9" fill="none" stroke-linecap="square"/>
<path d="M159.5 1282.2L161 1289.7L162.8 1267.4L164.1 1278.1L165.5 1276.3L167.4 1275.5L168 1292.9L170 1268.2L171.4 1283.6L172.8 1279.4L174.3 1265.7L175.7 1272.6L178.3 1264.8L178.9 1266.9L181 1258.8L182.3 1269.2L184 1254.9L185.6 1254.1L186.3 1275.4L187.9 1255.2L190.6 1274.6L191.2 1269.5L193 1271.6L194.3 1256.6L195.9 1260.3L197.5 1262.1L198.8 1251.9L200.6 1261.3L202.5 1259.6L204.5 1260.9L205 1249.2L207.6 1251.7L208.9 1252.1L210 1261.8L212.1 1245.5L213.6 1244.7L215.3 1259.4L215.8 1250.3L218 1247.9L219.7 1256.5L221 1248.8L222.9 1247.5L224.3 1237.8L225.1 1250.3L227.2 1228.9L228.2 1234.1L229.7 1231.7L231.7 1229.7L233 1244.9L235.3 1230.4L235.7 1263.5L237.4 1248.6L239.7 1249.6L241.4 1237.2L241.8 1237.9L244.3 1252.2L245.8 1251.9L247.3 1237.6L248.7 1244.1L250.7 1233.6L252.2 1240.7L253.2 1252.8L254.3 1238.3L257 1241.7L257.6 1235L259 1228.7L260.4 1244.2L262.5 1234.2L264.7 1228.3L266 1247.4L267.1 1230.1L269.1 1228.8L270.4 1237.8L272.3 1225.7L273.8 1234.5L274.8 1210.9L276.9 1226.9L278.3 1230.4L280 1217.7L280.8 1211L282.3 1217L284.1 1232.5L285.3 1220L286.7 1243.2L288.7 1218.5L290.1 1231.4L291.8 1241L293.2 1224.1L294.6 1236.9L297 1239.4L298.4 1230.5L299.5 1233.9L301 1242.2L302.4 1228.1L304.1 1217.5L305.8 1227.8L306.7 1235.5L308.5 1238.2L310.1 1219.2L312.5 1213.9L313.3 1233.1L315.4 1231.4L316 1232.4L318.1 1234.8L319.9 1236.3L320.6 1224.1L322.8 1224.4L323.7 1232.2L325.6 1225.6L327.3 1214.1L329.4 1231.6L329.9 1215.1L331.4 1222.2L333.7 1240.2L334.8 1221.9L336.8 1231.5L338.3 1231.7L339.3 1230.3L340.6 1223.2L342.7 1230.2L344.1 1223L346.1 1237.7L347.8 1236.2L348.8 1230.7L350.1 1229.7L352.5 1227.3L353.4 1218L354.5 1229L356.7 1226.2L358.4 1224.3L360.4 1212.2L361.2 1227.1L362.7 1225.5L364 1222.4L366 1234.2L367.3 1216.5L369.3 1228.6L370.7 1228.9L372.5 1212.4L374.2 1225.4L375.2 1235.8L376.2 1230.8L378.2 1228.8L379.8 1206.7L381.2 1206.2L382.3 1221.8L384.8 1223.8L386.6 1207.4L387.5 1217.5L388.9 1218.9L390.6 1214L392.1 1210L393.1 1224.8L395.8 1222L397.4 1220.1L398.5 1222.9L399.4 1209.9L401.3 1221.2L403 1227L404.4 1212.9L405.7 1216.3L408 1204.1L409.3 1218.5L410.6 1221.7L411.9 1213.4L414 1216.5L415.9 1206.5L416.5 1226.1L418 1221.9L419.4 1219.6L422 1222.2L423.4 1222.2L424.8 1225.3L425.9 1225.1L428.1 1219.4L428.6 1228.4L431 1209.5L431.8 1208.5L433.8 1235.8L435.8 1220.7L436.7 1232.9L439.1 1229.6L440.5 1220.3L441.4 1217.8L442.5 1222.9L444.5 1215L446.1 1220.4L448.3 1235.7L449.9 1216.6L451.2 1221L452 1215.3L454.4 1227.2L456.1 1214.4L457 1212.7L458.7 1211.1L460.3 1216.9L461.6 1231L463.1 1227L465.1 1219.7L465.9 1213.2L467.2 1221.1L469.2 1215.7L471.2 1224.2L472.9 1220.1L473.4 1225L476 1223.6L477.3 1198.9L479 1215.5L479.9 1220.2L482 1209L482.6 1223.9L485.4 1213.7L486.1 1223L488.2 1212.4L489.6 1209.6L491.4 1218.3L493.1 1219.8L494.4 1202.8L495.3 1200.1L496.8 1214.6L498.3 1209.6L500.7 1207.1L502.2 1195.3L503.8 1211.7L505.1 1223.3L506.5 1194.3L507.3 1217.5L509.9 1224.3L511.7 1209.4L512.5 1224.7" fill="none" stroke="none" marker-start="url(#m1)" marker-mid="url(#m1)" marker-end="url(#m1)"/>
<path d="M115.7 1331.8L120.8 1325L125.8 1318.7L130.8 1312.7L135.8 1307.1L140.9 1301.9L145.9 1296.9L150.9 1292.3L155.9 1287.9L161 1283.8L166 1279.9L171 1276.2L176 1272.8L181 1269.6L186.1 1266.6L191.1 1263.7L196.1 1261L201.1 1258.5L206.2 1256.2L211.2 1253.9L216.2 1251.8L221.2 1249.9L226.3 1248L231.3 1246.3L236.3 1244.6L241.3 1243.1L246.4 1241.6L251.4 1240.3L256.4 1239L261.4 1237.8L266.4 1236.7L271.5 1235.6L276.5 1234.6L281.5 1233.7L286.5 1232.8L291.6 1231.9L296.6 1231.2L301.6 1230.4L306.6 1229.7L311.7 1229.1L316.7 1228.5L321.7 1227.9L326.7 1227.4L331.7 1226.8L336.8 1226.4L341.8 1225.9L346.8 1225.5L351.8 1225.1L356.9 1224.7L361.9 1224.4L366.9 1224L371.9 1223.7L377 1223.4L382 1223.2L387 1222.9L392 1222.7L397.1 1222.4L402.1 1222.2L407.1 1222L412.1 1221.8L417.1 1221.6L422.2 1221.5L427.2 1221.3L432.2 1221.2L437.2 1221L442.3 1220.9L447.3 1220.8L452.3 1220.7L457.3 1220.5L462.4 1220.4L467.4 1220.3L472.4 1220.3L477.4 1220.2L482.5 1220.1L487.5 1220L492.5 1219.9L497.5 1219.9L502.5 1219.8L507.6 1219.7L512.6 1219.7" stroke="#7a3d86" stroke-width="3.9" fill="none" stroke-linecap="square"/>
</g>
<rect x="95.5" y="1142.5" width="436.6" height="281.4" fill="none" stroke="#262626" stroke-width="1.3"/>
<path d="M104.9 1423.9v4.5M159.1 1423.9v4.5M213.3 1423.9v4.5M267.5 1423.9v4.5M321.8 1423.9v4.5M376 1423.9v4.5M430.2 1423.9v4.5M484.4 1423.9v4.5M95.5 1390.7h-4.5M95.5 1334.6h-4.5M95.5 1278.5h-4.5M95.5 1222.3h-4.5M95.5 1166.2h-4.5" stroke="#262626" stroke-width="1.2"/>
<g font-family="DejaVu Sans" font-size="20.7" text-anchor="middle" fill="#000" stroke="#000" stroke-width="0.45"><text x="104.9" y="1449">−25</text><text x="159.1" y="1449">0</text><text x="213.3" y="1449">25</text><text x="267.5" y="1449">50</text><text x="321.8" y="1449">75</text><text x="376" y="1449">100</text><text x="430.2" y="1449">125</text><text x="484.4" y="1449">150</text></g>
<g font-family="DejaVu Sans" font-size="20.7" text-anchor="end" fill="#000" stroke="#000" stroke-width="0.45"><text x="86.2" y="1398.7">60</text><text x="86.2" y="1342.6">80</text><text x="86.2" y="1286.5">100</text><text x="86.2" y="1230.3">120</text><text x="86.2" y="1174.2">140</text></g>
<text x="313.8" y="1478.7" font-family="DejaVu Sans" font-size="26" text-anchor="middle" fill="#000" stroke="#000" stroke-width="0.4">Time (min)</text>
<text transform="translate(32.3 1281.5) rotate(-90)" font-family="DejaVu Sans" font-size="26" text-anchor="middle" fill="#000" stroke="#000" stroke-width="0.4">Volume (pL)</text>
<rect x="108.7" y="1153.2" width="151.4" height="66.8" rx="3" fill="#fff" fill-opacity="0.8" stroke="#d0d0d0" stroke-width="1.3"/>
<circle cx="139.1" cy="1169.6" r="3.85" fill="#2859ab" stroke="#1d417f" stroke-width="1.3"/>
<circle cx="139.1" cy="1200.3" r="3.85" fill="#ea1d2b" stroke="#bf1c29" stroke-width="1.3"/>
<g font-family="Liberation Sans" font-size="21.2" letter-spacing="-0.4" fill="#111"><text x="169.7" y="1178">C2 0.8M</text><text x="169.7" y="1208.7">C2 8M</text></g>
<text x="520.5" y="1170.3" font-family="Liberation Sans" font-size="24.3" letter-spacing="-0.6" text-anchor="end" fill="#111">14 µm</text>
<clipPath id="cb6"><rect x="627.9" y="1142.5" width="435.4" height="281.4"/></clipPath>
<g clip-path="url(#cb6)">
<path d="M707.5 1317.4L709.8 1312.7L712.5 1317.1L715.1 1321.6L717.9 1324.5L722 1328.4L724.9 1328.6L728 1328.5L729.9 1330.6L732.5 1344.5L736.3 1342.1L739.4 1345.2L741.4 1341.3L745.4 1346.2L747.4 1341.9L749.9 1340.6L753.2 1355.4L755.7 1355.5L759.8 1351.5L762.9 1349.3L764.9 1349.2L767.5 1365L770.3 1361.1L774 1361.4L776.9 1362.8L779.1 1345.7L783.4 1356.2L785.7 1358.8L789.3 1365.3L791.8 1353.5L795.3 1366.2L798 1368.5L800.7 1367.9L803.6 1367.1L806.8 1375.8L809.1 1366.6L812.5 1370.6L814.6 1375.2L818.8 1365.6L821.4 1387.1L823.4 1378.3L827.5 1375.3L829.1 1375.9L832.4 1376.5L835.1 1387.5L837.7 1384.9L841.6 1378L843.4 1378.9L847.7 1373.9L850.3 1372.8L853.3 1375.9L855 1370.9L859.7 1373.5L862.6 1386.7L864.6 1379.1L868.3 1391.5L871 1387.1L874 1384.1L875.5 1386.4L878.7 1390.6L883 1386.9L884.3 1385.7L888.5 1391.9L891.5 1393.3L894 1391.4L897.1 1390.8L899.3 1382.3L902.5 1394.5L906.3 1394.4L909.2 1398.7L910.8 1395.1L913.5 1394.8L916.8 1376.8L920.3 1387.7L923.6 1400.5L926.6 1396.5L929.1 1391.5L931.7 1402.3L934.5 1392.7L937.7 1392.6L941.1 1391.7L943.3 1393.1L946.5 1401.4L949.5 1397.2L951.6 1399.3L955.5 1403.9L958.6 1393.6L960.3 1399.3L963.4 1399L966.5 1407.1L969 1396.8L973.4 1402.3L975.1 1407.6L978 1397.2L982.4 1409.3L983.9 1405.8L986.9 1400.9L989.7 1399L993.1 1409.7L996.6 1401.5L999.4 1399L1001.8 1397.9L1004.7 1404.4L1007.4 1416.2L1011.6 1401.1L1013.3 1401.1L1016.8 1405.4L1019 1402.9L1022.1 1403.2L1025.8 1410.3L1027.9 1414.1L1031.7 1407.3L1034.2 1405.3L1036.5 1394.7L1040 1404.5" fill="none" stroke="none" marker-start="url(#m0)" marker-mid="url(#m0)" marker-end="url(#m0)"/>
<path d="M647.4 1247.6L652.4 1256.5L657.3 1264.8L662.3 1272.7L667.3 1280.1L672.2 1287.1L677.2 1293.7L682.2 1299.8L687.2 1305.7L692.1 1311.1L697.1 1316.3L702.1 1321.2L707 1325.7L712 1330L717 1334.1L721.9 1337.9L726.9 1341.5L731.9 1344.9L736.9 1348.1L741.8 1351.1L746.8 1353.9L751.8 1356.6L756.7 1359.1L761.7 1361.5L766.7 1363.7L771.6 1365.8L776.6 1367.7L781.6 1369.6L786.5 1371.3L791.5 1373L796.5 1374.5L801.5 1376L806.4 1377.4L811.4 1378.7L816.4 1379.9L821.3 1381L826.3 1382.1L831.3 1383.1L836.2 1384.1L841.2 1385L846.2 1385.8L851.1 1386.6L856.1 1387.4L861.1 1388.1L866.1 1388.8L871 1389.4L876 1390L881 1390.5L885.9 1391.1L890.9 1391.6L895.9 1392L900.8 1392.5L905.8 1392.9L910.8 1393.3L915.8 1393.6L920.7 1394L925.7 1394.3L930.7 1394.6L935.6 1394.9L940.6 1395.2L945.6 1395.4L950.5 1395.6L955.5 1395.9L960.5 1396.1L965.4 1396.3L970.4 1396.5L975.4 1396.7L980.4 1396.8L985.3 1397L990.3 1397.1L995.3 1397.3L1000.2 1397.4L1005.2 1397.5L1010.2 1397.6L1015.1 1397.7L1020.1 1397.8L1025.1 1397.9L1030.1 1398L1035 1398.1L1040 1398.2" stroke="#17a2a3" stroke-width="3.9" fill="none" stroke-linecap="square"/>
<path d="M706.9 1275.6L710.6 1282.1L712 1279.1L716.5 1282.5L717.9 1277.6L720.8 1275L725 1281.2L728.1 1263.9L730.3 1261.8L732.5 1273.1L736.6 1242L738.3 1256.8L741.2 1256.3L744.8 1255.6L747.2 1245.6L750.3 1255.5L752.9 1262.2L757 1265.1L759.4 1257.1L762.8 1247.4L765 1252.6L769.1 1246.4L771.9 1247.7L774.9 1236.1L776.6 1248.2L779.9 1248.1L782.7 1241L786.5 1240.7L789.2 1236.9L791.1 1235.8L795.1 1244.4L797.2 1231.3L799.5 1248.6L803.6 1237.2L807.1 1241.2L809.7 1246.9L812.3 1243.5L814.6 1246.3L818.1 1227.1L820.3 1222.4L824.3 1247.9L826.4 1223L829 1228.1L832.5 1237.1L834.9 1245.1L838.8 1231.1L841.5 1237.8L844.4 1228L846.9 1229.6L850.3 1223.1L852.2 1235.6L856.3 1222.4L858 1211L862.2 1244.1L864.5 1246.5L867.5 1213.2L870.9 1226.2L872.8 1208L876.5 1223.6L879.9 1238.9L882.1 1241L884.6 1229.1L887.6 1209L891.6 1218.2L894.2 1222.5L896.8 1193.4L899.6 1212.6L902.1 1209.3L905.3 1214.4L908 1197L912.2 1214.6L913.5 1211.8L916.4 1215.6L919.4 1218.5L922.8 1205.4L926.8 1221.4L929.3 1210.6L932.3 1222.7L934.3 1229.9L938.3 1223.8L940.8 1225.2L943.2 1208.5L947.1 1243.2L948.9 1227.8L952.8 1208.5L955 1206.6L958.4 1211.3L961.7 1206.3L964.5 1222.1L966.7 1224.5L969.4 1222.7L973.3 1218.7L975.6 1232.6L978.4 1216.6L981.5 1203.7L983.6 1228.7L987.1 1211.4L989.9 1208L992.7 1231.6L996.2 1209.6L999.5 1214.3L1002.2 1221.2L1004.5 1212.7L1007.6 1218.2L1010.4 1214.2L1013 1209.6L1016.4 1223.8L1019.3 1212.4L1023.2 1216L1024.9 1208.9L1027.9 1231.9L1031.9 1228.9L1034.1 1228.8L1036.4 1219.3L1039.6 1214.3" fill="none" stroke="none" marker-start="url(#m1)" marker-mid="url(#m1)" marker-end="url(#m1)"/>
<path d="M647.4 1365L652.4 1355.7L657.3 1347.1L662.3 1338.9L667.3 1331.3L672.2 1324.1L677.2 1317.4L682.2 1311L687.2 1305.1L692.1 1299.5L697.1 1294.2L702.1 1289.3L707 1284.6L712 1280.3L717 1276.2L721.9 1272.3L726.9 1268.7L731.9 1265.3L736.9 1262.1L741.8 1259.1L746.8 1256.3L751.8 1253.7L756.7 1251.2L761.7 1248.9L766.7 1246.7L771.6 1244.6L776.6 1242.7L781.6 1240.8L786.5 1239.1L791.5 1237.5L796.5 1236L801.5 1234.6L806.4 1233.3L811.4 1232L816.4 1230.8L821.3 1229.7L826.3 1228.7L831.3 1227.7L836.2 1226.8L841.2 1225.9L846.2 1225.1L851.1 1224.4L856.1 1223.7L861.1 1223L866.1 1222.4L871 1221.8L876 1221.2L881 1220.7L885.9 1220.2L890.9 1219.7L895.9 1219.3L900.8 1218.9L905.8 1218.5L910.8 1218.2L915.8 1217.8L920.7 1217.5L925.7 1217.2L930.7 1216.9L935.6 1216.7L940.6 1216.4L945.6 1216.2L950.5 1216L955.5 1215.8L960.5 1215.6L965.4 1215.4L970.4 1215.2L975.4 1215.1L980.4 1214.9L985.3 1214.8L990.3 1214.6L995.3 1214.5L1000.2 1214.4L1005.2 1214.3L1010.2 1214.2L1015.1 1214.1L1020.1 1214L1025.1 1213.9L1030.1 1213.8L1035 1213.7L1040 1213.7" stroke="#7a3d86" stroke-width="3.9" fill="none" stroke-linecap="square"/>
</g>
<rect x="627.9" y="1142.5" width="435.4" height="281.4" fill="none" stroke="#262626" stroke-width="1.3"/>
<path d="M647.4 1423.9v4.5M706.9 1423.9v4.5M766.4 1423.9v4.5M825.8 1423.9v4.5M885.3 1423.9v4.5M944.8 1423.9v4.5M1004.3 1423.9v4.5M627.9 1400h-4.5M627.9 1339h-4.5M627.9 1278.1h-4.5M627.9 1217.2h-4.5M627.9 1156.2h-4.5" stroke="#262626" stroke-width="1.2"/>
<g font-family="DejaVu Sans" font-size="20.7" text-anchor="middle" fill="#000" stroke="#000" stroke-width="0.45"><text x="647.4" y="1449">−20</text><text x="706.9" y="1449">0</text><text x="766.4" y="1449">20</text><text x="825.8" y="1449">40</text><text x="885.3" y="1449">60</text><text x="944.8" y="1449">80</text><text x="1004.3" y="1449">100</text></g>
<g font-family="DejaVu Sans" font-size="20.7" text-anchor="end" fill="#000" stroke="#000" stroke-width="0.45"><text x="618.6" y="1408">60</text><text x="618.6" y="1347">80</text><text x="618.6" y="1286.1">100</text><text x="618.6" y="1225.2">120</text><text x="618.6" y="1164.2">140</text></g>
<text x="845.6" y="1478.7" font-family="DejaVu Sans" font-size="26" text-anchor="middle" fill="#000" stroke="#000" stroke-width="0.4">Time (min)</text>
<text transform="translate(564.7 1281.7) rotate(-90)" font-family="DejaVu Sans" font-size="26" text-anchor="middle" fill="#000" stroke="#000" stroke-width="0.4">Volume (pL)</text>
<rect x="640.9" y="1153.2" width="151.4" height="66.8" rx="3" fill="#fff" fill-opacity="0.8" stroke="#d0d0d0" stroke-width="1.3"/>
<circle cx="671.3" cy="1169.6" r="3.85" fill="#2859ab" stroke="#1d417f" stroke-width="1.3"/>
<circle cx="671.3" cy="1200.3" r="3.85" fill="#ea1d2b" stroke="#bf1c29" stroke-width="1.3"/>
<g font-family="Liberation Sans" font-size="21.2" letter-spacing="-0.4" fill="#111"><text x="701.9" y="1178">C2 0.8M</text><text x="701.9" y="1208.7">C2 8M</text></g>
<text x="1047.8" y="1170.3" font-family="Liberation Sans" font-size="24.3" letter-spacing="-0.6" text-anchor="end" fill="#111">8 µm</text>
<clipPath id="cc1"><rect x="95.5" y="1507.3" width="436.6" height="283.5"/></clipPath>
<g clip-path="url(#cc1)">
<path d="M115.5 1579.1L189.9 1663.7L264.2 1729L388.2 1747.1L512.1 1749.7" fill="none" stroke="none" marker-start="url(#m2)" marker-mid="url(#m2)" marker-end="url(#m2)"/>
<path d="M115.5 1532.4L115.5 1538.8L115.5 1551.1L115.5 1562.7L115.5 1566.2L115.5 1572.4L115.5 1595.1L115.5 1619.3L115.5 1628.9L115.5 1569.2L189.9 1531.5L189.9 1652L189.9 1658.1L189.9 1664.8L189.9 1668.3L189.9 1681.7L189.9 1690.8L189.9 1694.6L189.9 1700.4L189.9 1703L264.2 1720.8L264.2 1723.7L264.2 1726.1L264.2 1730.1L264.2 1732.5L264.2 1735.7L264.2 1746.5L388.2 1734.2L388.2 1741.2L388.2 1747.6L388.2 1751.4L388.2 1754.6L388.2 1762.2L512.1 1747.6L512.1 1752L512.1 1750" fill="none" stroke="none" marker-start="url(#m3)" marker-mid="url(#m3)" marker-end="url(#m3)"/>
</g>
<rect x="95.5" y="1507.3" width="436.6" height="283.5" fill="none" stroke="#262626" stroke-width="1.3"/>
<path d="M140.3 1790.8v4.5M202.3 1790.8v4.5M264.2 1790.8v4.5M326.2 1790.8v4.5M388.2 1790.8v4.5M450.1 1790.8v4.5M512.1 1790.8v4.5M95.5 1790.8h-4.5M95.5 1732.5h-4.5M95.5 1674.2h-4.5M95.5 1615.8h-4.5M95.5 1557.5h-4.5" stroke="#262626" stroke-width="1.2"/>
<g font-family="DejaVu Sans" font-size="20.7" text-anchor="middle" fill="#000" stroke="#000" stroke-width="0.45"><text x="140.3" y="1815.9">10</text><text x="202.3" y="1815.9">15</text><text x="264.2" y="1815.9">20</text><text x="326.2" y="1815.9">25</text><text x="388.2" y="1815.9">30</text><text x="450.1" y="1815.9">35</text><text x="512.1" y="1815.9">40</text></g>
<g font-family="DejaVu Sans" font-size="20.7" text-anchor="end" fill="#000" stroke="#000" stroke-width="0.45"><text x="86.2" y="1798.8">0</text><text x="86.2" y="1740.5">20</text><text x="86.2" y="1682.2">40</text><text x="86.2" y="1623.8">60</text><text x="86.2" y="1565.5">80</text></g>
<text x="313.8" y="1845.6" font-family="DejaVu Sans" font-size="26" text-anchor="middle" fill="#000" stroke="#000" stroke-width="0.4">Distance (<tspan font-style="italic">µm</tspan>)</text>
<g font-family="Liberation Sans" fill="#000" stroke="#000" stroke-width="0.2"><text transform="translate(32.1 1772.2) rotate(-90)" font-size="28" font-style="italic">P</text><text transform="translate(40.8 1753.1) rotate(-90)" font-size="24" font-style="italic">H</text><text transform="translate(44.5 1735.6) rotate(-90)" font-size="19.6">2</text><text transform="translate(40.8 1723.4) rotate(-90)" font-size="24" font-style="italic">0</text><text transform="translate(32.1 1703.8) rotate(-90)" font-size="23.5" letter-spacing="0.42">(mol.min<tspan font-size="19.6" dy="-8.1">-1</tspan><tspan dy="8.1">.µm</tspan><tspan font-size="19.6" dy="-8.1">-2</tspan><tspan dy="8.1">)</tspan></text></g>
<clipPath id="cc2"><rect x="627.9" y="1507.3" width="436.2" height="283.5"/></clipPath>
<g clip-path="url(#cc2)">
<path d="M647.6 1701.6L721.9 1692.9L796.3 1743.7L920.1 1735.5L1044 1704.6" fill="none" stroke="none" marker-start="url(#m2)" marker-mid="url(#m2)" marker-end="url(#m2)"/>
<path d="M647.6 1666.3L647.6 1670.4L647.6 1680.3L647.6 1689.3L647.6 1694.8L647.6 1697.4L647.6 1713.2L647.6 1731.4L647.6 1737.7L721.9 1520.5L721.9 1677.2L721.9 1693.4L721.9 1697.5L721.9 1716.6L721.9 1727.9L721.9 1731.4L721.9 1739.6L721.9 1743.7L796.3 1726.8L796.3 1730.1L796.3 1734.1L796.3 1738.2L796.3 1750.5L796.3 1759.4L796.3 1775.7L920.1 1699.7L920.1 1717.8L920.1 1742.3L920.1 1755.9L920.1 1778.2L1044 1701.6L1044 1719.2L1044 1703" fill="none" stroke="none" marker-start="url(#m3)" marker-mid="url(#m3)" marker-end="url(#m3)"/>
</g>
<rect x="627.9" y="1507.3" width="436.2" height="283.5" fill="none" stroke="#262626" stroke-width="1.3"/>
<path d="M672.4 1790.8v4.5M734.3 1790.8v4.5M796.3 1790.8v4.5M858.2 1790.8v4.5M920.1 1790.8v4.5M982.1 1790.8v4.5M1044 1790.8v4.5M627.9 1750.7h-4.5M627.9 1696.2h-4.5M627.9 1641.6h-4.5M627.9 1587h-4.5M627.9 1532.5h-4.5" stroke="#262626" stroke-width="1.2"/>
<g font-family="DejaVu Sans" font-size="20.7" text-anchor="middle" fill="#000" stroke="#000" stroke-width="0.45"><text x="672.4" y="1815.9">10</text><text x="734.3" y="1815.9">15</text><text x="796.3" y="1815.9">20</text><text x="858.2" y="1815.9">25</text><text x="920.1" y="1815.9">30</text><text x="982.1" y="1815.9">35</text><text x="1044" y="1815.9">40</text></g>
<g font-family="DejaVu Sans" font-size="20.7" text-anchor="end" fill="#000" stroke="#000" stroke-width="0.45"><text x="618.6" y="1758.7">400</text><text x="618.6" y="1704.2">600</text><text x="618.6" y="1649.6">800</text><text x="618.6" y="1595">1000</text><text x="618.6" y="1540.5">1200</text></g>
<text x="846" y="1845.6" font-family="DejaVu Sans" font-size="26" text-anchor="middle" fill="#000" stroke="#000" stroke-width="0.4">Distance (<tspan font-style="italic">µm</tspan>)</text>
<g font-family="Liberation Sans" fill="#000" stroke="#000" stroke-width="0.2"><text transform="translate(561.2 1782.3) rotate(-90)" font-size="28" font-style="italic">P</text><text transform="translate(569.2 1763.9) rotate(-90)" font-size="24" font-style="italic">H</text><text transform="translate(573.8 1745.8) rotate(-90)" font-size="19.6">2</text><text transform="translate(569.2 1735) rotate(-90)" font-size="24" font-style="italic">0</text><text transform="translate(561.3 1715.4) rotate(-90)" font-size="28" font-style="italic">L</text><text transform="translate(561.5 1693.3) rotate(-90)" font-size="23.5" letter-spacing="0.42">(mol.min<tspan font-size="19.6" dy="-8.1">-1</tspan><tspan dy="8.1">.µm</tspan><tspan font-size="19.6" dy="-8.1">-1</tspan><tspan dy="8.1">)</tspan></text></g>
<clipPath id="cd1"><rect x="1159.8" y="1507.3" width="436.2" height="283.5"/></clipPath>
<g clip-path="url(#cd1)">
<path d="M1179 1563.3L1253.4 1624L1327.8 1679.6L1451.9 1722.2L1575.9 1737.1" fill="none" stroke="none" marker-start="url(#m2)" marker-mid="url(#m2)" marker-end="url(#m2)"/>
<path d="M1179 1532.4L1179 1535.7L1179 1547.4L1179 1552.7L1179 1556.9L1179 1573.3L1179 1580L1179 1586.8L1179 1564.7L1253.4 1590.6L1253.4 1613.8L1253.4 1617.8L1253.4 1630.5L1253.4 1635.8L1253.4 1643.7L1253.4 1624.5L1327.8 1659.7L1327.8 1664.3L1327.8 1673.6L1327.8 1684.6L1327.8 1691.6L1327.8 1721.5L1327.8 1681L1451.9 1710.9L1451.9 1716.2L1451.9 1722.8L1451.9 1728.1L1451.9 1745.4L1451.9 1718.8L1575.9 1728.1L1575.9 1733.5L1575.9 1738.8L1575.9 1747.4L1575.9 1736.1" fill="none" stroke="none" marker-start="url(#m3)" marker-mid="url(#m3)" marker-end="url(#m3)"/>
</g>
<rect x="1159.8" y="1507.3" width="436.2" height="283.5" fill="none" stroke="#262626" stroke-width="1.3"/>
<path d="M1203.8 1790.8v4.5M1265.8 1790.8v4.5M1327.8 1790.8v4.5M1389.8 1790.8v4.5M1451.9 1790.8v4.5M1513.9 1790.8v4.5M1575.9 1790.8v4.5M1159.8 1790.6h-4.5M1159.8 1757.4h-4.5M1159.8 1724.1h-4.5M1159.8 1690.9h-4.5M1159.8 1657.7h-4.5M1159.8 1624.5h-4.5M1159.8 1591.2h-4.5M1159.8 1558h-4.5M1159.8 1524.8h-4.5" stroke="#262626" stroke-width="1.2"/>
<g font-family="DejaVu Sans" font-size="20.7" text-anchor="middle" fill="#000" stroke="#000" stroke-width="0.45"><text x="1203.8" y="1815.9">10</text><text x="1265.8" y="1815.9">15</text><text x="1327.8" y="1815.9">20</text><text x="1389.8" y="1815.9">25</text><text x="1451.9" y="1815.9">30</text><text x="1513.9" y="1815.9">35</text><text x="1575.9" y="1815.9">40</text></g>
<g font-family="DejaVu Sans" font-size="20.7" text-anchor="end" fill="#000" stroke="#000" stroke-width="0.45"><text x="1150.5" y="1798.6">0.0</text><text x="1150.5" y="1765.4">0.5</text><text x="1150.5" y="1732.1">1.0</text><text x="1150.5" y="1698.9">1.5</text><text x="1150.5" y="1665.7">2.0</text><text x="1150.5" y="1632.5">2.5</text><text x="1150.5" y="1599.2">3.0</text><text x="1150.5" y="1566">3.5</text><text x="1150.5" y="1532.8">4.0</text></g>
<text x="1377.9" y="1845.6" font-family="DejaVu Sans" font-size="26" text-anchor="middle" fill="#000" stroke="#000" stroke-width="0.4">Distance (<tspan font-style="italic">µm</tspan>)</text>
<g font-family="Liberation Sans" fill="#000" stroke="#000" stroke-width="0.2"><text transform="translate(1098.4 1765.3) rotate(-90)" font-size="28" font-style="italic">P</text><text transform="translate(1106.9 1745.3) rotate(-90)" font-size="24" font-style="italic">C</text><text transform="translate(1110.9 1728.7) rotate(-90)" font-size="19.6">2</text><text transform="translate(1098.4 1710.6) rotate(-90)" font-size="23.5" letter-spacing="0.42">(mol.min<tspan font-size="19.6" dy="-8.1">-1</tspan><tspan dy="8.1">.µm</tspan><tspan font-size="19.6" dy="-8.1">-2</tspan><tspan dy="8.1">)</tspan></text></g>
<clipPath id="cd2"><rect x="1690.9" y="1507.3" width="436.5" height="283.5"/></clipPath>
<g clip-path="url(#cd2)">
<path d="M1710.6 1697.5L1785 1603.1L1859.4 1624.8L1983.5 1653.7L2107.5 1640.4" fill="none" stroke="none" marker-start="url(#m2)" marker-mid="url(#m2)" marker-end="url(#m2)"/>
<path d="M1710.6 1652.8L1710.6 1659.7L1710.6 1675.3L1710.6 1682.6L1710.6 1695.8L1710.6 1713.9L1710.6 1718.1L1710.6 1722.3L1710.6 1731.3L1785 1520.4L1785 1580.2L1785 1590.3L1785 1619.9L1785 1632L1785 1638L1785 1654.9L1785 1593.5L1859.4 1553.8L1859.4 1558.5L1859.4 1569.6L1859.4 1598.3L1859.4 1612.7L1859.4 1618.1L1859.4 1636.8L1859.4 1657.6L1859.4 1665.7L1859.4 1776.5L1983.5 1593.5L1983.5 1606.3L1983.5 1614.2L1983.5 1640.4L1983.5 1689.8L1983.5 1778.2L2107.5 1576.6L2107.5 1594.7L2107.5 1621.2L2107.5 1636.8L2107.5 1642.2L2107.5 1701.2L2107.5 1709" fill="none" stroke="none" marker-start="url(#m3)" marker-mid="url(#m3)" marker-end="url(#m3)"/>
</g>
<rect x="1690.9" y="1507.3" width="436.5" height="283.5" fill="none" stroke="#262626" stroke-width="1.3"/>
<path d="M1735.4 1790.8v4.5M1797.4 1790.8v4.5M1859.4 1790.8v4.5M1921.5 1790.8v4.5M1983.5 1790.8v4.5M2045.5 1790.8v4.5M2107.5 1790.8v4.5M1690.9 1786.1h-4.5M1690.9 1725.9h-4.5M1690.9 1665.7h-4.5M1690.9 1605.5h-4.5M1690.9 1545.3h-4.5" stroke="#262626" stroke-width="1.2"/>
<g font-family="DejaVu Sans" font-size="20.7" text-anchor="middle" fill="#000" stroke="#000" stroke-width="0.45"><text x="1735.4" y="1815.9">10</text><text x="1797.4" y="1815.9">15</text><text x="1859.4" y="1815.9">20</text><text x="1921.5" y="1815.9">25</text><text x="1983.5" y="1815.9">30</text><text x="2045.5" y="1815.9">35</text><text x="2107.5" y="1815.9">40</text></g>
<g font-family="DejaVu Sans" font-size="20.7" text-anchor="end" fill="#000" stroke="#000" stroke-width="0.45"><text x="1681.6" y="1794.1">20</text><text x="1681.6" y="1733.9">25</text><text x="1681.6" y="1673.7">30</text><text x="1681.6" y="1613.5">35</text><text x="1681.6" y="1553.3">40</text></g>
<text x="1909.2" y="1845.6" font-family="DejaVu Sans" font-size="26" text-anchor="middle" fill="#000" stroke="#000" stroke-width="0.4">Distance (<tspan font-style="italic">µm</tspan>)</text>
<g font-family="Liberation Sans" fill="#000" stroke="#000" stroke-width="0.2"><text transform="translate(1628.7 1773.1) rotate(-90)" font-size="28" font-style="italic">P</text><text transform="translate(1637.4 1753) rotate(-90)" font-size="24" font-style="italic">C</text><text transform="translate(1641 1736.2) rotate(-90)" font-size="19.6">2</text><text transform="translate(1628.7 1724.5) rotate(-90)" font-size="28" font-style="italic">L</text><text transform="translate(1628.8 1702.5) rotate(-90)" font-size="23.5" letter-spacing="0.42">(mol.min<tspan font-size="19.6" dy="-8.1">-1</tspan><tspan dy="8.1">.µm</tspan><tspan font-size="19.6" dy="-8.1">-1</tspan><tspan dy="8.1">)</tspan></text></g>
<g font-family="Liberation Sans" font-weight="bold" font-size="57" fill="#1a1a1a">
<text x="17.5" y="49.2">a</text>
<text x="14" y="769.4">b</text>
<text x="18" y="1488.3">c</text>
<text x="1104" y="1488.9">d</text>
</g>
</svg></body></html>
